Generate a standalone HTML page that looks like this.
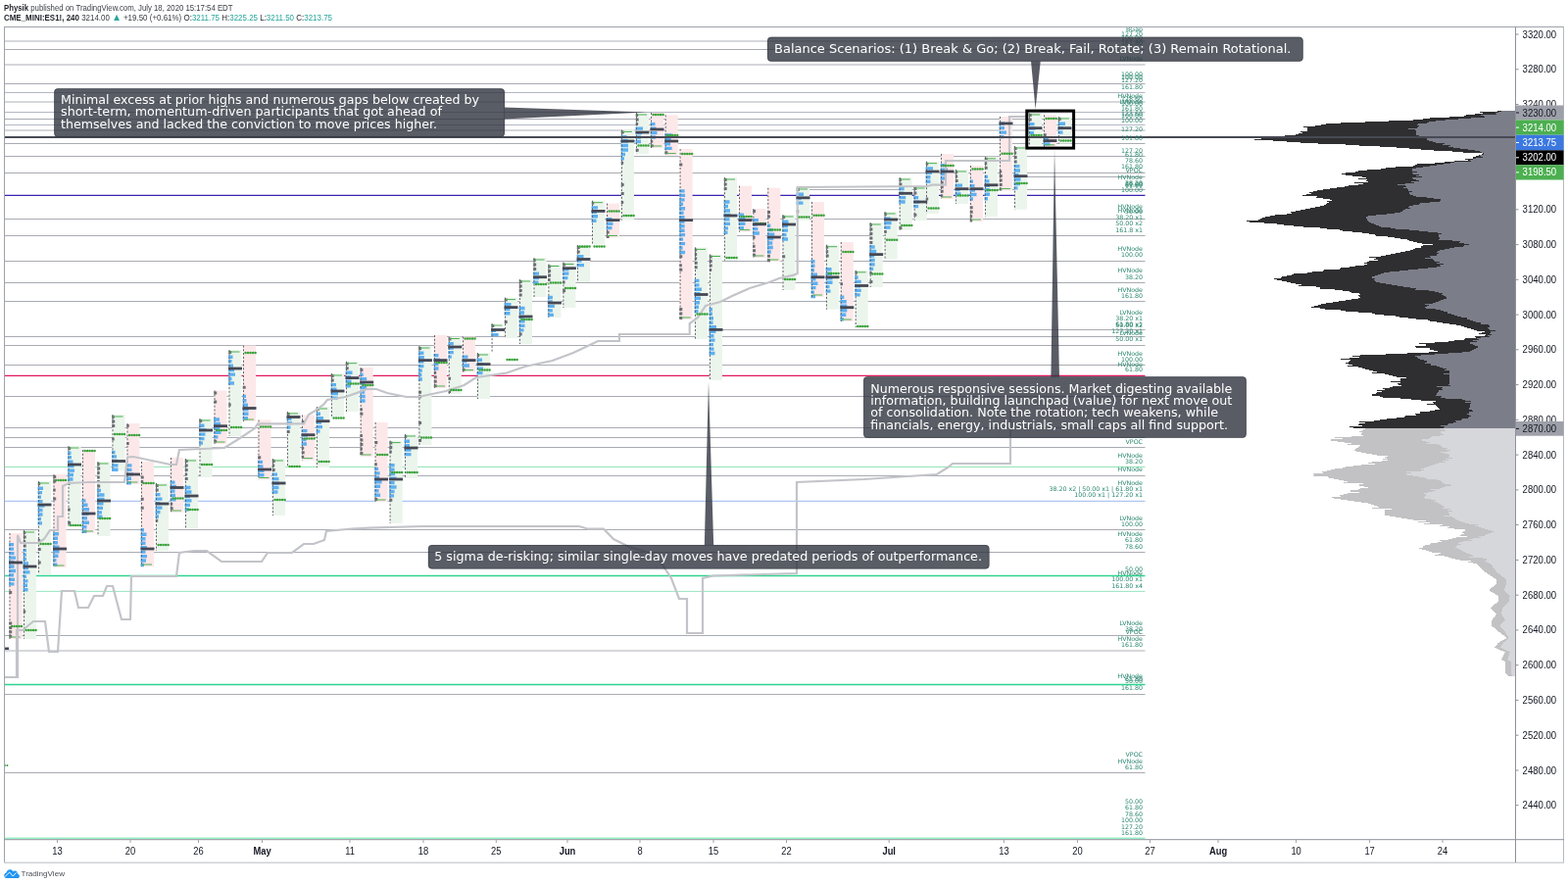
<!DOCTYPE html>
<html><head><meta charset="utf-8"><title>ES1! TPO chart</title>
<style>html,body{margin:0;padding:0;background:#fff;overflow:hidden}svg{display:block}</style></head>
<body><svg width="1600" height="903" viewBox="0 0 1600 903" shape-rendering="auto">
<rect width="1600" height="903" fill="#ffffff"/>
<line x1="5" x2="1168.5" y1="42" y2="42" stroke="#d6d7db" stroke-width="2"/>
<line x1="5" x2="1168.5" y1="50.5" y2="50.5" stroke="#a9abb2" stroke-width="1"/>
<line x1="5" x2="1168.5" y1="66" y2="66" stroke="#d6d7db" stroke-width="2"/>
<line x1="5" x2="1168.5" y1="85.5" y2="85.5" stroke="#a9abb2" stroke-width="1"/>
<line x1="5" x2="1168.5" y1="94.5" y2="94.5" stroke="#b4b8c6" stroke-width="1"/>
<line x1="5" x2="1168.5" y1="104" y2="104" stroke="#d6d7db" stroke-width="2"/>
<line x1="5" x2="1168.5" y1="114.5" y2="114.5" stroke="#b4b8c6" stroke-width="1"/>
<line x1="5" x2="1168.5" y1="121.5" y2="121.5" stroke="#a9abb2" stroke-width="1"/>
<line x1="5" x2="1168.5" y1="127.5" y2="127.5" stroke="#b4b8c6" stroke-width="1"/>
<line x1="5" x2="1168.5" y1="133" y2="133" stroke="#d6d7db" stroke-width="2"/>
<line x1="5" x2="1168.5" y1="146.5" y2="146.5" stroke="#a9abb2" stroke-width="1"/>
<line x1="5" x2="1168.5" y1="159.5" y2="159.5" stroke="#a9abb2" stroke-width="1"/>
<line x1="5" x2="1168.5" y1="176.5" y2="176.5" stroke="#a9abb2" stroke-width="1"/>
<line x1="5" x2="1168.5" y1="223.5" y2="223.5" stroke="#a9abb2" stroke-width="1"/>
<line x1="5" x2="1168.5" y1="240.5" y2="240.5" stroke="#a9abb2" stroke-width="1"/>
<line x1="5" x2="1168.5" y1="266.5" y2="266.5" stroke="#a9abb2" stroke-width="1"/>
<line x1="5" x2="1168.5" y1="288.5" y2="288.5" stroke="#a9abb2" stroke-width="1"/>
<line x1="5" x2="1168.5" y1="307.5" y2="307.5" stroke="#a9abb2" stroke-width="1"/>
<line x1="5" x2="1168.5" y1="343.5" y2="343.5" stroke="#a9abb2" stroke-width="1"/>
<line x1="5" x2="1168.5" y1="352.5" y2="352.5" stroke="#a9abb2" stroke-width="1"/>
<line x1="5" x2="1168.5" y1="372.5" y2="372.5" stroke="#a9abb2" stroke-width="1"/>
<line x1="5" x2="1168.5" y1="404.5" y2="404.5" stroke="#a9abb2" stroke-width="1"/>
<line x1="5" x2="1168.5" y1="436.5" y2="436.5" stroke="#a9abb2" stroke-width="1"/>
<line x1="5" x2="1168.5" y1="446.5" y2="446.5" stroke="#a9abb2" stroke-width="1"/>
<line x1="5" x2="1168.5" y1="456.5" y2="456.5" stroke="#a9abb2" stroke-width="1"/>
<line x1="5" x2="1168.5" y1="485.5" y2="485.5" stroke="#a9abb2" stroke-width="1"/>
<line x1="5" x2="1168.5" y1="540.5" y2="540.5" stroke="#a9abb2" stroke-width="1"/>
<line x1="5" x2="1168.5" y1="563.5" y2="563.5" stroke="#a9abb2" stroke-width="1"/>
<line x1="5" x2="1168.5" y1="648.5" y2="648.5" stroke="#a9abb2" stroke-width="1"/>
<line x1="5" x2="1168.5" y1="664" y2="664" stroke="#d6d7db" stroke-width="2"/>
<line x1="5" x2="1168.5" y1="708.5" y2="708.5" stroke="#a9abb2" stroke-width="1"/>
<line x1="5" x2="1168.5" y1="788.5" y2="788.5" stroke="#a9abb2" stroke-width="1"/>
<line x1="1035" x2="1168.5" y1="180.5" y2="180.5" stroke="#a9abb2" stroke-width="1"/>
<line x1="813" x2="1168.5" y1="193.5" y2="193.5" stroke="#a9abb2" stroke-width="1"/>
<line x1="724" x2="1168.5" y1="336.5" y2="336.5" stroke="#a9abb2" stroke-width="1"/>
<line x1="5" x2="1168.5" y1="199.3" y2="199.3" stroke="#3a23b0" stroke-width="1.3"/>
<line x1="5" x2="1168.5" y1="383.4" y2="383.4" stroke="#e0185f" stroke-width="1.4"/>
<line x1="5" x2="1168.5" y1="476.4" y2="476.4" stroke="#8fe3b5" stroke-width="1"/>
<line x1="5" x2="1168.5" y1="511.3" y2="511.3" stroke="#9ab8f2" stroke-width="1"/>
<line x1="5" x2="1168.5" y1="587.5" y2="587.5" stroke="#2fd38f" stroke-width="1.4"/>
<line x1="5" x2="1168.5" y1="603.4" y2="603.4" stroke="#98e6c0" stroke-width="1"/>
<line x1="5" x2="1168.5" y1="698.5" y2="698.5" stroke="#2fd38f" stroke-width="1.4"/>
<line x1="5" x2="1168.5" y1="855.3" y2="855.3" stroke="#95efc4" stroke-width="1.4"/>
<g><rect x="9.5" y="544.0" width="13" height="108.0" fill="#fde8e9"/><rect x="24.0" y="541.0" width="13" height="111.0" fill="#ebf5ec"/><rect x="39.0" y="491.0" width="13" height="95.0" fill="#ebf5ec"/><rect x="54.5" y="484.0" width="13" height="95.0" fill="#fde8e9"/><rect x="69.5" y="455.0" width="13" height="82.0" fill="#ebf5ec"/><rect x="84.0" y="459.0" width="13" height="85.0" fill="#fde8e9"/><rect x="99.5" y="471.0" width="13" height="76.0" fill="#ebf5ec"/><rect x="114.5" y="423.0" width="13" height="57.0" fill="#ebf5ec"/><rect x="129.5" y="432.0" width="13" height="62.0" fill="#fde8e9"/><rect x="144.0" y="471.0" width="13" height="107.0" fill="#fde8e9"/><rect x="159.0" y="493.0" width="13" height="69.0" fill="#ebf5ec"/><rect x="174.0" y="467.0" width="13" height="56.0" fill="#fde8e9"/><rect x="189.0" y="468.0" width="13" height="71.0" fill="#ebf5ec"/><rect x="203.5" y="427.0" width="13" height="60.0" fill="#ebf5ec"/><rect x="218.5" y="398.5" width="13" height="54.5" fill="#fde8e9"/><rect x="233.5" y="357.0" width="13" height="88.0" fill="#ebf5ec"/><rect x="248.0" y="352.5" width="13" height="77.5" fill="#fde8e9"/><rect x="263.5" y="428.5" width="13" height="61.0" fill="#fde8e9"/><rect x="278.0" y="468.0" width="13" height="58.0" fill="#ebf5ec"/><rect x="293.0" y="420.0" width="13" height="56.0" fill="#ebf5ec"/><rect x="308.0" y="423.5" width="13" height="46.1" fill="#fde8e9"/><rect x="323.0" y="415.0" width="13" height="62.0" fill="#ebf5ec"/><rect x="338.0" y="381.0" width="13" height="44.0" fill="#ebf5ec"/><rect x="353.0" y="368.7" width="13" height="51.3" fill="#ebf5ec"/><rect x="367.7" y="375.0" width="13" height="91.0" fill="#fde8e9"/><rect x="382.6" y="431.0" width="13" height="81.0" fill="#fde8e9"/><rect x="397.6" y="449.6" width="13" height="84.4" fill="#ebf5ec"/><rect x="413.0" y="443.0" width="13" height="45.0" fill="#ebf5ec"/><rect x="427.4" y="353.0" width="13" height="101.0" fill="#ebf5ec"/><rect x="443.0" y="342.0" width="13" height="54.0" fill="#fde8e9"/><rect x="457.8" y="343.5" width="13" height="58.5" fill="#ebf5ec"/><rect x="472.0" y="343.5" width="13" height="36.1" fill="#fde8e9"/><rect x="487.0" y="360.0" width="13" height="47.0" fill="#ebf5ec"/><rect x="515.0" y="303.6" width="13" height="41.4" fill="#ebf5ec"/><rect x="530.0" y="285.0" width="13" height="66.0" fill="#ebf5ec"/><rect x="544.5" y="263.0" width="13" height="40.0" fill="#ebf5ec"/><rect x="559.4" y="269.5" width="13" height="54.5" fill="#ebf5ec"/><rect x="574.4" y="267.5" width="13" height="46.5" fill="#ebf5ec"/><rect x="589.0" y="250.0" width="13" height="38.0" fill="#ebf5ec"/><rect x="604.0" y="204.7" width="13" height="44.8" fill="#ebf5ec"/><rect x="619.0" y="207.6" width="13" height="34.9" fill="#fde8e9"/><rect x="634.0" y="132.4" width="13" height="92.2" fill="#ebf5ec"/><rect x="649.0" y="115.0" width="13" height="42.0" fill="#ebf5ec"/><rect x="664.0" y="115.0" width="13" height="36.0" fill="#fde8e9"/><rect x="678.7" y="117.4" width="13" height="41.2" fill="#fde8e9"/><rect x="693.6" y="152.0" width="13" height="174.0" fill="#fde8e9"/><rect x="709.0" y="252.4" width="13" height="93.6" fill="#ebf5ec"/><rect x="724.0" y="259.5" width="13" height="128.5" fill="#ebf5ec"/><rect x="739.0" y="181.0" width="13" height="84.7" fill="#ebf5ec"/><rect x="754.0" y="189.7" width="13" height="46.9" fill="#fde8e9"/><rect x="768.4" y="213.0" width="13" height="50.0" fill="#fde8e9"/><rect x="783.3" y="191.7" width="13" height="75.3" fill="#fde8e9"/><rect x="798.5" y="219.0" width="13" height="77.0" fill="#ebf5ec"/><rect x="813.0" y="191.0" width="13" height="34.0" fill="#ebf5ec"/><rect x="828.0" y="206.0" width="13" height="97.0" fill="#fde8e9"/><rect x="843.0" y="249.7" width="13" height="66.0" fill="#ebf5ec"/><rect x="857.8" y="247.0" width="13" height="81.0" fill="#fde8e9"/><rect x="872.7" y="275.8" width="13" height="58.2" fill="#ebf5ec"/><rect x="887.7" y="227.0" width="13" height="66.0" fill="#ebf5ec"/><rect x="902.6" y="216.0" width="13" height="48.6" fill="#ebf5ec"/><rect x="917.7" y="181.0" width="13" height="53.7" fill="#ebf5ec"/><rect x="932.7" y="190.0" width="13" height="35.0" fill="#ebf5ec"/><rect x="945.0" y="164.7" width="13" height="53.3" fill="#ebf5ec"/><rect x="960.0" y="157.0" width="13" height="46.0" fill="#fde8e9"/><rect x="975.0" y="173.0" width="13" height="35.0" fill="#ebf5ec"/><rect x="990.0" y="169.0" width="13" height="57.0" fill="#fde8e9"/><rect x="1005.0" y="159.8" width="13" height="61.2" fill="#ebf5ec"/><rect x="1020.0" y="119.0" width="13" height="75.6" fill="#fde8e9"/><rect x="1035.0" y="149.0" width="13" height="64.8" fill="#ebf5ec"/><rect x="1050.0" y="115.0" width="13" height="33.0" fill="#ebf5ec"/><rect x="1065.0" y="117.4" width="13" height="32.4" fill="#fde8e9"/><rect x="1080.0" y="119.0" width="13" height="27.5" fill="#ebf5ec"/></g>
<path d="M9.0 553.9h5.0v3.4h-5.0zM9.0 558.4h5.0v3.4h-5.0zM9.0 562.9h5.5v3.4h-5.5zM9.0 567.4h7.0v3.4h-7.0zM9.0 571.8h5.5v3.4h-5.5zM9.0 576.3h5.5v3.4h-5.5zM9.0 580.8h7.0v3.4h-7.0zM9.0 585.2h5.0v3.4h-5.0zM9.0 589.7h6.0v3.4h-6.0zM9.0 594.2h5.5v3.4h-5.5zM23.5 559.9h3.5v3.4h-3.5zM23.5 564.4h3.5v3.4h-3.5zM23.5 568.8h3.5v3.4h-3.5zM23.5 573.3h5.5v3.4h-5.5zM23.5 577.8h5.5v3.4h-5.5zM23.5 582.2h7.0v3.4h-7.0zM23.5 586.7h3.5v3.4h-3.5zM23.5 591.2h5.0v3.4h-5.0zM23.5 595.6h4.5v3.4h-4.5zM23.5 600.1h5.0v3.4h-5.0zM38.5 496.5h5.5v3.4h-5.5zM38.5 500.9h4.5v3.4h-4.5zM38.5 505.4h3.5v3.4h-3.5zM38.5 509.9h5.0v3.4h-5.0zM38.5 514.4h7.0v3.4h-7.0zM38.5 518.8h5.0v3.4h-5.0zM38.5 523.3h5.0v3.4h-5.0zM38.5 527.8h3.5v3.4h-3.5zM38.5 532.2h4.5v3.4h-4.5zM54.0 543.1h6.0v3.4h-6.0zM54.0 547.6h5.0v3.4h-5.0zM54.0 552.1h5.0v3.4h-5.0zM54.0 556.5h6.5v3.4h-6.5zM54.0 561.0h6.5v3.4h-6.5zM54.0 565.5h5.5v3.4h-5.5zM54.0 569.9h3.5v3.4h-3.5zM54.0 574.4h4.5v3.4h-4.5zM69.0 460.5h3.5v3.4h-3.5zM69.0 464.9h4.0v3.4h-4.0zM69.0 469.4h5.5v3.4h-5.5zM69.0 473.9h6.5v3.4h-6.5zM69.0 478.4h7.0v3.4h-7.0zM69.0 482.8h6.0v3.4h-6.0zM69.0 487.3h5.5v3.4h-5.5zM83.5 509.2h4.0v3.4h-4.0zM83.5 513.6h6.0v3.4h-6.0zM83.5 518.1h7.5v3.4h-7.5zM83.5 522.6h7.0v3.4h-7.0zM83.5 527.1h5.5v3.4h-5.5zM83.5 531.5h7.5v3.4h-7.5zM83.5 536.0h5.0v3.4h-5.0zM83.5 540.5h5.0v3.4h-5.0zM99.0 498.8h4.0v3.4h-4.0zM99.0 503.3h7.5v3.4h-7.5zM99.0 507.8h7.5v3.4h-7.5zM99.0 512.2h6.5v3.4h-6.5zM99.0 516.7h6.0v3.4h-6.0zM99.0 521.2h5.0v3.4h-5.0zM99.0 525.6h5.5v3.4h-5.5zM114.0 459.8h3.5v3.4h-3.5zM114.0 464.2h5.0v3.4h-5.0zM114.0 468.7h6.0v3.4h-6.0zM114.0 473.2h6.5v3.4h-6.5zM114.0 477.6h6.5v3.4h-6.5zM129.0 473.2h5.5v3.4h-5.5zM129.0 477.7h5.5v3.4h-5.5zM129.0 482.2h7.0v3.4h-7.0zM129.0 486.6h5.0v3.4h-5.0zM129.0 491.1h5.0v3.4h-5.0zM143.5 539.1h3.5v3.4h-3.5zM143.5 543.5h6.0v3.4h-6.0zM143.5 548.0h5.0v3.4h-5.0zM143.5 552.5h5.0v3.4h-5.0zM143.5 556.9h6.5v3.4h-6.5zM143.5 561.4h5.0v3.4h-5.0zM143.5 565.9h6.5v3.4h-6.5zM143.5 570.3h5.5v3.4h-5.5zM143.5 574.8h3.5v3.4h-3.5zM158.5 502.9h5.0v3.4h-5.0zM158.5 507.4h7.0v3.4h-7.0zM158.5 511.9h5.0v3.4h-5.0zM158.5 516.4h7.0v3.4h-7.0zM158.5 520.8h5.0v3.4h-5.0zM158.5 525.3h3.5v3.4h-3.5zM173.5 490.4h5.0v3.4h-5.0zM173.5 494.8h6.5v3.4h-6.5zM173.5 499.3h5.0v3.4h-5.0zM173.5 503.8h5.5v3.4h-5.5zM173.5 508.2h6.0v3.4h-6.0zM188.5 495.8h6.0v3.4h-6.0zM188.5 500.3h7.0v3.4h-7.0zM188.5 504.8h5.5v3.4h-5.5zM188.5 509.2h7.0v3.4h-7.0zM188.5 513.7h5.5v3.4h-5.5zM188.5 518.2h4.5v3.4h-4.5zM203.0 432.5h5.5v3.4h-5.5zM203.0 436.9h7.5v3.4h-7.5zM203.0 441.4h6.5v3.4h-6.5zM203.0 445.9h5.5v3.4h-5.5zM203.0 450.4h4.0v3.4h-4.0zM218.0 426.3h6.0v3.4h-6.0zM218.0 430.8h7.0v3.4h-7.0zM218.0 435.3h6.5v3.4h-6.5zM218.0 439.7h7.5v3.4h-7.5zM218.0 444.2h4.5v3.4h-4.5zM233.0 362.5h4.5v3.4h-4.5zM233.0 366.9h3.5v3.4h-3.5zM233.0 371.4h5.0v3.4h-5.0zM233.0 375.9h6.0v3.4h-6.0zM233.0 380.4h7.0v3.4h-7.0zM233.0 384.8h3.5v3.4h-3.5zM233.0 389.3h6.0v3.4h-6.0zM247.5 402.7h3.5v3.4h-3.5zM247.5 407.1h4.0v3.4h-4.0zM247.5 411.6h5.5v3.4h-5.5zM247.5 416.1h6.0v3.4h-6.0zM247.5 420.6h6.0v3.4h-6.0zM247.5 425.0h5.5v3.4h-5.5zM263.0 469.7h5.0v3.4h-5.0zM263.0 474.2h5.5v3.4h-5.5zM263.0 478.7h6.5v3.4h-6.5zM263.0 483.1h6.5v3.4h-6.5zM277.5 482.4h5.5v3.4h-5.5zM277.5 486.9h7.0v3.4h-7.0zM277.5 491.4h7.5v3.4h-7.5zM277.5 495.8h7.0v3.4h-7.0zM277.5 500.3h6.0v3.4h-6.0zM292.5 425.5h5.0v3.4h-5.0zM292.5 429.9h5.5v3.4h-5.5zM292.5 434.4h4.0v3.4h-4.0zM307.5 437.9h6.0v3.4h-6.0zM307.5 442.4h6.5v3.4h-6.5zM307.5 446.9h5.0v3.4h-5.0zM307.5 451.3h5.5v3.4h-5.5zM322.5 420.5h4.5v3.4h-4.5zM322.5 424.9h7.5v3.4h-7.5zM322.5 429.4h5.5v3.4h-5.5zM322.5 433.9h6.5v3.4h-6.5zM322.5 438.4h4.0v3.4h-4.0zM337.5 390.9h5.5v3.4h-5.5zM337.5 395.4h6.0v3.4h-6.0zM337.5 399.9h7.5v3.4h-7.5zM337.5 404.4h7.0v3.4h-7.0zM352.5 378.6h7.0v3.4h-7.0zM352.5 383.1h5.5v3.4h-5.5zM352.5 387.6h6.0v3.4h-6.0zM352.5 392.1h5.5v3.4h-5.5zM367.2 380.5h3.5v3.4h-3.5zM367.2 384.9h7.0v3.4h-7.0zM367.2 389.4h5.0v3.4h-5.0zM367.2 393.9h7.0v3.4h-7.0zM367.2 398.4h5.0v3.4h-5.0zM367.2 402.8h5.5v3.4h-5.5zM367.2 407.3h5.5v3.4h-5.5zM382.1 476.7h4.0v3.4h-4.0zM382.1 481.2h5.5v3.4h-5.5zM382.1 485.6h5.0v3.4h-5.0zM382.1 490.1h7.5v3.4h-7.5zM382.1 494.6h6.0v3.4h-6.0zM382.1 499.1h4.5v3.4h-4.5zM382.1 503.5h6.0v3.4h-6.0zM397.1 473.0h5.5v3.4h-5.5zM397.1 477.4h5.5v3.4h-5.5zM397.1 481.9h6.0v3.4h-6.0zM397.1 486.4h7.5v3.4h-7.5zM397.1 490.8h5.5v3.4h-5.5zM397.1 495.3h7.5v3.4h-7.5zM397.1 499.8h5.5v3.4h-5.5zM397.1 504.2h5.0v3.4h-5.0zM412.5 448.5h5.5v3.4h-5.5zM412.5 452.9h5.5v3.4h-5.5zM412.5 457.4h7.0v3.4h-7.0zM412.5 461.9h7.0v3.4h-7.0zM426.9 358.5h5.5v3.4h-5.5zM426.9 362.9h6.0v3.4h-6.0zM426.9 367.4h5.5v3.4h-5.5zM426.9 371.9h5.5v3.4h-5.5zM426.9 376.4h4.0v3.4h-4.0zM426.9 380.8h3.5v3.4h-3.5zM426.9 385.3h4.0v3.4h-4.0zM442.5 360.9h5.0v3.4h-5.0zM442.5 365.4h6.5v3.4h-6.5zM442.5 369.8h5.0v3.4h-5.0zM442.5 374.3h5.0v3.4h-5.0zM457.3 349.0h5.5v3.4h-5.5zM457.3 353.4h5.5v3.4h-5.5zM457.3 357.9h5.5v3.4h-5.5zM457.3 362.4h3.5v3.4h-3.5zM471.5 362.4h6.0v3.4h-6.0zM471.5 366.9h5.0v3.4h-5.0zM471.5 371.3h7.5v3.4h-7.5zM486.5 365.5h5.5v3.4h-5.5zM486.5 369.9h6.5v3.4h-6.5zM486.5 374.4h6.5v3.4h-6.5zM486.5 378.9h6.0v3.4h-6.0zM501.1 335.5h5.0v3.4h-5.0zM501.1 339.9h7.5v3.4h-7.5zM514.5 309.1h7.0v3.4h-7.0zM514.5 313.5h6.0v3.4h-6.0zM514.5 318.0h6.0v3.4h-6.0zM529.5 312.8h6.0v3.4h-6.0zM529.5 317.3h5.5v3.4h-5.5zM529.5 321.8h5.0v3.4h-5.0zM529.5 326.2h6.0v3.4h-6.0zM529.5 330.7h6.0v3.4h-6.0zM529.5 335.2h5.0v3.4h-5.0zM544.0 277.4h6.0v3.4h-6.0zM544.0 281.9h6.0v3.4h-6.0zM544.0 286.4h5.5v3.4h-5.5zM558.9 301.8h5.0v3.4h-5.0zM558.9 306.3h5.0v3.4h-5.0zM558.9 310.7h7.0v3.4h-7.0zM558.9 315.2h5.0v3.4h-5.0zM558.9 319.7h6.0v3.4h-6.0zM573.9 273.0h6.5v3.4h-6.5zM573.9 277.4h6.5v3.4h-6.5zM573.9 281.9h5.5v3.4h-5.5zM588.5 259.9h7.0v3.4h-7.0zM588.5 264.4h5.0v3.4h-5.0zM588.5 268.9h7.5v3.4h-7.5zM603.5 210.2h6.5v3.4h-6.5zM603.5 214.6h5.5v3.4h-5.5zM603.5 219.1h6.5v3.4h-6.5zM603.5 223.6h5.0v3.4h-5.0zM618.5 222.0h6.0v3.4h-6.0zM618.5 226.5h7.0v3.4h-7.0zM618.5 230.9h6.0v3.4h-6.0zM633.5 137.9h6.0v3.4h-6.0zM633.5 142.3h7.5v3.4h-7.5zM633.5 146.8h7.5v3.4h-7.5zM633.5 151.3h7.5v3.4h-7.5zM633.5 155.8h4.5v3.4h-4.5zM633.5 160.2h3.5v3.4h-3.5zM648.5 129.4h7.5v3.4h-7.5zM648.5 133.9h6.5v3.4h-6.5zM648.5 138.3h5.5v3.4h-5.5zM648.5 142.8h5.5v3.4h-5.5zM663.5 124.9h5.0v3.4h-5.0zM663.5 129.4h6.0v3.4h-6.0zM663.5 133.9h7.0v3.4h-7.0zM663.5 138.3h5.5v3.4h-5.5zM678.2 136.3h7.5v3.4h-7.5zM678.2 140.8h6.5v3.4h-6.5zM678.2 145.2h6.0v3.4h-6.0zM678.2 149.7h7.5v3.4h-7.5zM693.1 193.2h5.5v3.4h-5.5zM693.1 197.7h6.0v3.4h-6.0zM693.1 202.2h5.5v3.4h-5.5zM693.1 206.6h4.0v3.4h-4.0zM693.1 211.1h6.0v3.4h-6.0zM693.1 215.6h4.5v3.4h-4.5zM693.1 220.0h5.5v3.4h-5.5zM693.1 224.5h5.5v3.4h-5.5zM693.1 229.0h5.5v3.4h-5.5zM693.1 233.5h5.5v3.4h-5.5zM693.1 237.9h6.0v3.4h-6.0zM693.1 242.4h4.0v3.4h-4.0zM693.1 246.9h6.0v3.4h-6.0zM693.1 251.3h3.5v3.4h-3.5zM693.1 255.8h6.0v3.4h-6.0zM708.5 284.7h5.0v3.4h-5.0zM708.5 289.2h5.0v3.4h-5.0zM708.5 293.6h7.5v3.4h-7.5zM708.5 298.1h6.0v3.4h-6.0zM708.5 302.6h6.5v3.4h-6.5zM708.5 307.0h5.5v3.4h-5.5zM708.5 311.5h4.5v3.4h-4.5zM708.5 316.0h4.0v3.4h-4.0zM723.5 314.1h3.5v3.4h-3.5zM723.5 318.6h3.5v3.4h-3.5zM723.5 323.1h4.5v3.4h-4.5zM723.5 327.6h4.0v3.4h-4.0zM723.5 332.0h7.5v3.4h-7.5zM723.5 336.5h7.0v3.4h-7.0zM723.5 341.0h5.0v3.4h-5.0zM723.5 345.4h6.0v3.4h-6.0zM723.5 349.9h4.5v3.4h-4.5zM723.5 354.4h5.0v3.4h-5.0zM723.5 358.8h6.0v3.4h-6.0zM738.5 204.3h6.0v3.4h-6.0zM738.5 208.8h4.5v3.4h-4.5zM738.5 213.3h6.5v3.4h-6.5zM738.5 217.8h7.0v3.4h-7.0zM738.5 222.2h6.0v3.4h-6.0zM738.5 226.7h6.5v3.4h-6.5zM738.5 231.2h4.5v3.4h-4.5zM738.5 235.6h4.0v3.4h-4.0zM753.5 217.5h5.5v3.4h-5.5zM753.5 222.0h7.0v3.4h-7.0zM753.5 226.5h7.0v3.4h-7.0zM753.5 230.9h5.5v3.4h-5.5zM767.9 222.9h6.0v3.4h-6.0zM767.9 227.4h5.0v3.4h-5.0zM767.9 231.9h5.5v3.4h-5.5zM767.9 236.3h7.0v3.4h-7.0zM782.8 228.5h3.5v3.4h-3.5zM782.8 232.9h6.0v3.4h-6.0zM782.8 237.4h7.5v3.4h-7.5zM782.8 241.9h6.5v3.4h-6.5zM782.8 246.3h5.5v3.4h-5.5zM782.8 250.8h6.0v3.4h-6.0zM782.8 255.3h4.0v3.4h-4.0zM798.0 224.5h6.5v3.4h-6.5zM798.0 228.9h6.0v3.4h-6.0zM798.0 233.4h6.0v3.4h-6.0zM798.0 237.9h4.5v3.4h-4.5zM798.0 242.3h6.0v3.4h-6.0zM812.5 196.5h7.5v3.4h-7.5zM812.5 200.9h5.0v3.4h-5.0zM812.5 205.4h7.0v3.4h-7.0zM827.5 265.1h4.0v3.4h-4.0zM827.5 269.6h4.0v3.4h-4.0zM827.5 274.1h3.5v3.4h-3.5zM827.5 278.5h6.5v3.4h-6.5zM827.5 283.0h5.0v3.4h-5.0zM827.5 287.5h7.0v3.4h-7.0zM827.5 291.9h5.0v3.4h-5.0zM827.5 296.4h3.5v3.4h-3.5zM827.5 300.9h4.5v3.4h-4.5zM842.5 273.1h6.0v3.4h-6.0zM842.5 277.5h6.5v3.4h-6.5zM842.5 282.0h7.0v3.4h-7.0zM842.5 286.5h7.0v3.4h-7.0zM842.5 290.9h4.0v3.4h-4.0zM842.5 295.4h5.0v3.4h-5.0zM857.3 301.6h4.0v3.4h-4.0zM857.3 306.1h6.5v3.4h-6.5zM857.3 310.6h7.0v3.4h-7.0zM857.3 315.1h7.0v3.4h-7.0zM857.3 319.5h6.0v3.4h-6.0zM857.3 324.0h3.5v3.4h-3.5zM872.2 281.3h3.5v3.4h-3.5zM872.2 285.7h6.5v3.4h-6.5zM872.2 290.2h6.0v3.4h-6.0zM872.2 294.7h6.5v3.4h-6.5zM872.2 299.2h5.5v3.4h-5.5zM887.2 250.3h5.5v3.4h-5.5zM887.2 254.8h7.0v3.4h-7.0zM887.2 259.3h5.0v3.4h-5.0zM887.2 263.8h5.5v3.4h-5.5zM887.2 268.2h5.5v3.4h-5.5zM887.2 272.7h4.0v3.4h-4.0zM902.1 221.5h6.5v3.4h-6.5zM902.1 225.9h7.5v3.4h-7.5zM902.1 230.4h6.5v3.4h-6.5zM917.2 190.9h5.5v3.4h-5.5zM917.2 195.4h5.0v3.4h-5.0zM917.2 199.9h7.0v3.4h-7.0zM917.2 204.3h6.5v3.4h-6.5zM932.2 199.9h5.0v3.4h-5.0zM932.2 204.4h6.0v3.4h-6.0zM932.2 208.9h5.0v3.4h-5.0zM944.5 170.2h7.5v3.4h-7.5zM944.5 174.6h6.5v3.4h-6.5zM944.5 179.1h5.0v3.4h-5.0zM944.5 183.6h5.0v3.4h-5.0zM959.5 166.9h5.5v3.4h-5.5zM959.5 171.4h7.5v3.4h-7.5zM959.5 175.9h6.0v3.4h-6.0zM959.5 180.3h6.0v3.4h-6.0zM974.5 187.4h7.5v3.4h-7.5zM974.5 191.9h5.0v3.4h-5.0zM974.5 196.3h6.0v3.4h-6.0zM989.5 183.4h3.5v3.4h-3.5zM989.5 187.9h5.0v3.4h-5.0zM989.5 192.3h5.5v3.4h-5.5zM989.5 196.8h7.0v3.4h-7.0zM989.5 201.3h3.5v3.4h-3.5zM1004.5 178.7h3.5v3.4h-3.5zM1004.5 183.2h5.0v3.4h-5.0zM1004.5 187.6h5.5v3.4h-5.5zM1004.5 192.1h5.0v3.4h-5.0zM1004.5 196.6h5.5v3.4h-5.5zM1004.5 201.0h3.5v3.4h-3.5zM1019.5 124.5h5.5v3.4h-5.5zM1019.5 128.9h5.5v3.4h-5.5zM1019.5 133.4h7.5v3.4h-7.5zM1019.5 137.9h5.0v3.4h-5.0zM1034.5 167.9h6.0v3.4h-6.0zM1034.5 172.3h6.5v3.4h-6.5zM1034.5 176.8h5.0v3.4h-5.0zM1034.5 181.3h7.0v3.4h-7.0zM1034.5 185.8h6.5v3.4h-6.5zM1034.5 190.2h4.0v3.4h-4.0zM1049.5 124.9h6.0v3.4h-6.0zM1049.5 129.4h7.0v3.4h-7.0zM1049.5 133.9h5.5v3.4h-5.5zM1064.5 140.8h5.5v3.4h-5.5zM1064.5 145.2h7.0v3.4h-7.0zM1079.5 124.5h7.5v3.4h-7.5zM1079.5 128.9h5.5v3.4h-5.5zM1079.5 133.4h5.0v3.4h-5.0z" fill="#5eb0f0"/>
<path d="M9.2 603.1h3.0v3h-3.0zM9.2 634.4h3.0v3h-3.0zM9.2 638.9h3.0v3h-3.0zM9.2 643.3h3.0v3h-3.0zM9.2 647.8h3.0v3h-3.0zM23.7 542.0h2.5v3h-2.5zM23.7 546.5h3.0v3h-3.0zM23.7 550.9h2.5v3h-2.5zM23.7 555.4h3.0v3h-3.0zM23.7 622.5h2.5v3h-2.5zM38.7 492.0h2.5v3h-2.5zM38.7 550.1h2.5v3h-2.5zM38.7 559.1h3.0v3h-3.0zM38.7 572.5h3.0v3h-3.0zM54.2 485.0h3.0v3h-3.0zM54.2 489.5h3.0v3h-3.0zM54.2 498.4h2.5v3h-2.5zM54.2 507.4h3.0v3h-3.0zM69.2 456.0h3.0v3h-3.0zM69.2 491.8h2.5v3h-2.5zM69.2 518.6h2.5v3h-2.5zM69.2 532.0h3.0v3h-3.0zM99.2 472.0h2.5v3h-2.5zM99.2 476.5h3.0v3h-3.0zM99.2 480.9h2.5v3h-2.5zM99.2 485.4h2.5v3h-2.5zM99.2 489.9h2.5v3h-2.5zM99.2 494.4h3.0v3h-3.0zM114.2 424.0h2.5v3h-2.5zM114.2 428.5h3.0v3h-3.0zM114.2 432.9h3.0v3h-3.0zM114.2 446.4h2.5v3h-2.5zM129.2 433.0h2.5v3h-2.5zM129.2 450.9h2.5v3h-2.5zM143.7 485.4h3.0v3h-3.0zM143.7 489.9h2.5v3h-2.5zM143.7 507.8h3.0v3h-3.0zM143.7 516.7h3.0v3h-3.0zM158.7 494.0h3.0v3h-3.0zM158.7 498.5h3.0v3h-3.0zM158.7 529.8h2.5v3h-2.5zM173.7 512.7h2.5v3h-2.5zM173.7 517.2h3.0v3h-3.0zM188.7 469.0h3.0v3h-3.0zM188.7 473.5h3.0v3h-3.0zM188.7 477.9h3.0v3h-3.0zM188.7 482.4h2.5v3h-2.5zM188.7 486.9h3.0v3h-3.0zM203.2 428.0h3.0v3h-3.0zM218.2 399.5h3.0v3h-3.0zM218.2 408.4h3.0v3h-3.0zM218.2 448.7h3.0v3h-3.0zM233.2 358.0h3.0v3h-3.0zM233.2 411.6h2.5v3h-2.5zM247.7 393.7h3.0v3h-3.0zM263.2 465.3h3.0v3h-3.0zM277.7 469.0h3.0v3h-3.0zM277.7 473.5h2.5v3h-2.5zM277.7 477.9h3.0v3h-3.0zM292.7 421.0h3.0v3h-3.0zM292.7 438.9h3.0v3h-3.0zM307.7 429.0h3.0v3h-3.0zM307.7 455.8h2.5v3h-2.5zM307.7 460.3h3.0v3h-3.0zM307.7 464.7h2.5v3h-2.5zM322.7 416.0h3.0v3h-3.0zM337.7 382.0h3.0v3h-3.0zM337.7 386.5h3.0v3h-3.0zM352.7 369.7h3.0v3h-3.0zM352.7 374.2h3.0v3h-3.0zM367.4 376.0h3.0v3h-3.0zM367.4 416.2h2.5v3h-2.5zM367.4 420.7h3.0v3h-3.0zM367.4 443.1h2.5v3h-2.5zM367.4 447.5h3.0v3h-3.0zM367.4 452.0h3.0v3h-3.0zM367.4 456.5h2.5v3h-2.5zM367.4 460.9h3.0v3h-3.0zM382.3 449.9h3.0v3h-3.0zM382.3 472.2h2.5v3h-2.5zM382.3 508.0h3.0v3h-3.0zM397.3 450.6h3.0v3h-3.0zM397.3 455.1h3.0v3h-3.0zM397.3 459.5h2.5v3h-2.5zM397.3 508.7h3.0v3h-3.0zM412.7 444.0h2.5v3h-2.5zM427.1 354.0h3.0v3h-3.0zM427.1 398.7h3.0v3h-3.0zM427.1 403.2h3.0v3h-3.0zM427.1 430.0h3.0v3h-3.0zM427.1 447.9h3.0v3h-3.0zM442.7 378.8h2.5v3h-2.5zM442.7 383.2h3.0v3h-3.0zM442.7 387.7h3.0v3h-3.0zM442.7 392.2h3.0v3h-3.0zM457.5 344.5h3.0v3h-3.0zM457.5 384.7h2.5v3h-2.5zM457.5 398.1h2.5v3h-2.5zM471.7 375.8h3.0v3h-3.0zM486.7 361.0h2.5v3h-2.5zM501.3 331.0h3.0v3h-3.0zM514.7 304.6h3.0v3h-3.0zM514.7 327.0h3.0v3h-3.0zM529.7 286.0h3.0v3h-3.0zM529.7 290.5h3.0v3h-3.0zM529.7 294.9h3.0v3h-3.0zM529.7 299.4h3.0v3h-3.0zM529.7 339.6h3.0v3h-3.0zM544.2 264.0h2.5v3h-2.5zM544.2 268.5h3.0v3h-3.0zM544.2 272.9h3.0v3h-3.0zM559.1 270.5h3.0v3h-3.0zM559.1 275.0h3.0v3h-3.0zM559.1 279.4h3.0v3h-3.0zM559.1 283.9h2.5v3h-2.5zM574.1 268.5h3.0v3h-3.0zM574.1 286.4h2.5v3h-2.5zM574.1 295.3h3.0v3h-3.0zM588.7 251.0h3.0v3h-3.0zM588.7 255.5h3.0v3h-3.0zM603.7 205.7h2.5v3h-2.5zM618.7 235.4h3.0v3h-3.0zM618.7 239.9h3.0v3h-3.0zM633.7 133.4h3.0v3h-3.0zM633.7 164.7h2.5v3h-2.5zM633.7 187.0h3.0v3h-3.0zM633.7 196.0h3.0v3h-3.0zM633.7 204.9h2.5v3h-2.5zM648.7 116.0h2.5v3h-2.5zM648.7 120.5h3.0v3h-3.0zM648.7 124.9h2.5v3h-2.5zM648.7 151.8h3.0v3h-3.0zM663.7 142.8h2.5v3h-2.5zM663.7 147.3h3.0v3h-3.0zM678.4 154.2h3.0v3h-3.0zM693.3 166.4h3.0v3h-3.0zM693.3 260.3h3.0v3h-3.0zM693.3 269.2h2.5v3h-2.5zM693.3 273.7h3.0v3h-3.0zM693.3 313.9h3.0v3h-3.0zM693.3 318.4h3.0v3h-3.0zM693.3 322.9h3.0v3h-3.0zM708.7 253.4h2.5v3h-2.5zM708.7 257.9h2.5v3h-2.5zM708.7 262.3h2.5v3h-2.5zM708.7 266.8h3.0v3h-3.0zM708.7 271.3h3.0v3h-3.0zM723.7 260.5h3.0v3h-3.0zM723.7 265.0h3.0v3h-3.0zM723.7 269.4h3.0v3h-3.0zM723.7 273.9h2.5v3h-2.5zM738.7 182.0h3.0v3h-3.0zM738.7 186.5h3.0v3h-3.0zM738.7 190.9h3.0v3h-3.0zM768.1 214.0h3.0v3h-3.0zM768.1 240.8h2.5v3h-2.5zM768.1 249.8h2.5v3h-2.5zM768.1 254.2h3.0v3h-3.0zM768.1 258.7h3.0v3h-3.0zM783.0 215.0h3.0v3h-3.0zM783.0 219.5h3.0v3h-3.0zM783.0 259.8h3.0v3h-3.0zM783.0 264.2h3.0v3h-3.0zM798.2 220.0h3.0v3h-3.0zM798.2 260.2h3.0v3h-3.0zM812.7 192.0h3.0v3h-3.0zM812.7 214.3h2.5v3h-2.5zM842.7 250.7h2.5v3h-2.5zM842.7 255.2h2.5v3h-2.5zM842.7 259.6h3.0v3h-3.0zM857.5 288.2h2.5v3h-2.5zM872.4 276.8h2.5v3h-2.5zM887.4 228.0h2.5v3h-2.5zM887.4 232.5h3.0v3h-3.0zM887.4 236.9h3.0v3h-3.0zM887.4 241.4h3.0v3h-3.0zM887.4 245.9h3.0v3h-3.0zM887.4 277.2h2.5v3h-2.5zM887.4 286.1h3.0v3h-3.0zM902.3 217.0h2.5v3h-2.5zM902.3 234.9h2.5v3h-2.5zM917.4 182.0h2.5v3h-2.5zM917.4 186.5h3.0v3h-3.0zM917.4 231.2h3.0v3h-3.0zM932.4 191.0h3.0v3h-3.0zM932.4 195.5h3.0v3h-3.0zM932.4 217.8h3.0v3h-3.0zM944.7 165.7h2.5v3h-2.5zM944.7 201.5h2.5v3h-2.5zM959.7 184.8h3.0v3h-3.0zM959.7 189.3h3.0v3h-3.0zM959.7 193.8h3.0v3h-3.0zM959.7 198.2h2.5v3h-2.5zM974.7 174.0h2.5v3h-2.5zM974.7 178.5h2.5v3h-2.5zM974.7 182.9h3.0v3h-3.0zM989.7 210.2h3.0v3h-3.0zM989.7 214.7h3.0v3h-3.0zM989.7 219.2h2.5v3h-2.5zM989.7 223.6h2.5v3h-2.5zM1004.7 160.8h3.0v3h-3.0zM1004.7 165.3h2.5v3h-2.5zM1004.7 169.7h3.0v3h-3.0zM1019.7 173.6h2.5v3h-2.5zM1019.7 178.1h3.0v3h-3.0zM1019.7 182.6h3.0v3h-3.0zM1019.7 187.0h3.0v3h-3.0zM1019.7 191.5h2.5v3h-2.5zM1034.7 150.0h3.0v3h-3.0zM1034.7 154.5h2.5v3h-2.5zM1034.7 158.9h3.0v3h-3.0zM1034.7 163.4h3.0v3h-3.0zM1049.7 116.0h3.0v3h-3.0zM1049.7 120.5h3.0v3h-3.0zM1064.7 136.3h3.0v3h-3.0zM1079.7 120.0h3.0v3h-3.0z" fill="#6e7076"/>
<path d="M10.0 544.0V652.0M24.5 541.0V652.0M39.5 491.0V586.0M55.0 484.0V579.0M70.0 455.0V537.0M84.5 459.0V544.0M100.0 471.0V547.0M115.0 423.0V480.0M130.0 432.0V494.0M144.5 471.0V578.0M159.5 493.0V562.0M174.5 467.0V523.0M189.5 468.0V539.0M204.0 427.0V487.0M219.0 398.5V453.0M234.0 357.0V445.0M248.5 352.5V430.0M264.0 428.5V489.5M278.5 468.0V526.0M293.5 420.0V476.0M308.5 423.5V469.6M323.5 415.0V477.0M338.5 381.0V425.0M353.5 368.7V420.0M368.2 375.0V466.0M383.1 431.0V512.0M398.1 449.6V534.0M413.5 443.0V488.0M427.9 353.0V454.0M443.5 342.0V396.0M458.3 343.5V402.0M472.5 343.5V379.6M487.5 360.0V407.0M502.1 330.0V360.0M515.5 303.6V345.0M530.5 285.0V351.0M545.0 263.0V303.0M559.9 269.5V324.0M574.9 267.5V314.0M589.5 250.0V288.0M604.5 204.7V249.5M619.5 207.6V242.5M634.5 132.4V224.6M649.5 115.0V157.0M664.5 115.0V151.0M679.2 117.4V158.6M694.1 152.0V326.0M709.5 252.4V346.0M724.5 259.5V388.0M739.5 181.0V265.7M754.5 189.7V236.6M768.9 213.0V263.0M783.8 191.7V267.0M799.0 219.0V296.0M813.5 191.0V225.0M828.5 206.0V303.0M843.5 249.7V315.7M858.3 247.0V328.0M873.2 275.8V334.0M888.2 227.0V293.0M903.1 216.0V264.6M918.2 181.0V234.7M933.2 190.0V225.0M945.5 164.7V218.0M960.5 157.0V203.0M975.5 173.0V208.0M990.5 169.0V226.0M1005.5 159.8V221.0M1020.5 119.0V194.6M1035.5 149.0V213.8M1050.5 115.0V148.0M1065.5 117.4V149.8M1080.5 119.0V146.5" stroke="#62646b" stroke-width="1" stroke-dasharray="2 1.8" fill="none"/>
<path d="M10.5 650.0h10M25.0 543.0h10M40.0 493.0h10M55.5 577.0h10M70.5 457.0h10M85.0 542.0h10M100.5 473.0h10M115.5 425.0h10M130.5 492.0h10M145.0 576.0h10M160.0 495.0h10M175.0 521.0h10M190.0 470.0h10M204.5 429.0h10M219.5 451.0h10M234.5 359.0h10M249.0 428.0h10M264.5 487.5h10M279.0 470.0h10M294.0 422.0h10M309.0 467.6h10M324.0 417.0h10M339.0 383.0h10M354.0 370.7h10M368.7 464.0h10M383.6 510.0h10M398.6 451.6h10M414.0 445.0h10M428.4 355.0h10M444.0 394.0h10M458.8 345.5h10M473.0 377.6h10M488.0 362.0h10M502.6 332.0h10M516.0 305.6h10M531.0 287.0h10M545.5 265.0h10M560.4 271.5h10M575.4 269.5h10M590.0 252.0h10M605.0 206.7h10M620.0 240.5h10M635.0 134.4h10M650.0 117.0h10M665.0 149.0h10M679.7 156.6h10M694.6 324.0h10M710.0 254.4h10M725.0 261.5h10M740.0 183.0h10M755.0 234.6h10M769.4 261.0h10M784.3 265.0h10M799.5 221.0h10M814.0 193.0h10M829.0 301.0h10M844.0 251.7h10M858.8 326.0h10M873.7 277.8h10M888.7 229.0h10M903.6 218.0h10M918.7 183.0h10M933.7 192.0h10M946.0 166.7h10M961.0 201.0h10M976.0 175.0h10M991.0 224.0h10M1006.0 161.8h10M1021.0 192.6h10M1036.0 151.0h10M1051.0 117.0h10M1066.0 147.8h10M1081.0 121.0h10" stroke="#4caf50" stroke-width="1" fill="none"/>
<polyline points="4,691 18,691 18,546 21,554 39,554 45,550 51,541 59,541 59,527 64,527 64,496 70,493 90,492 127,492 130,466.5 136,466 174,474 180,474 183,459 229,457 245,447 260,437 263,432.4 310,432.4 315,423 321.7,419 330,413 334,408 352.7,405 365,400.6 374,397 384,397 395,401 414.7,405 427,405 455,399 473.6,393 486,385 517,380.5 535.7,374 563.6,368 585,360 597.7,354 610,348 632,348 632,341 703.7,341 703.7,330 712,324 720,312 735,308 747,302 765,294 785,288 795,284 810,280.6 813.7,279 813.7,191 946,190 951,188.6 965,188.6 965,164 1030,164 1030,119 1046,119 1050,114.5 1090,114.5" fill="none" stroke="#c3c4c9" stroke-width="2.2" stroke-linejoin="miter"/>
<polyline points="4,691 17,691 17,643 23,643 34,634 46,634 50,665 59,665 63,603 76,603 80,620 90,620 96,608 105,608 109,598 115,598 124,632 133,632 134,588 180,588 183,564 198,562 211,562 226,573 267,573 273,564 298,564 310,555 320,555 331,551 333,542 359,539.5 377,538.6 430,537 591,537 600,539.7 616,539.7 626,550 642,558 669,566 685,590 693,611 701,611 701,646 717,646 717,590 728,587.5 813,585 813,492 882,489 956,484 967,477 972,473 1031,473 1031,420 1046,420" fill="none" stroke="#c3c4c9" stroke-width="2.2" stroke-linejoin="miter"/>
<path d="M12.1 639.0m-1.25 0a1.25 1.25 0 1 0 2.5 0a1.25 1.25 0 1 0 -2.5 0M14.6 639.0m-1.25 0a1.25 1.25 0 1 0 2.5 0a1.25 1.25 0 1 0 -2.5 0M17.1 639.0m-1.25 0a1.25 1.25 0 1 0 2.5 0a1.25 1.25 0 1 0 -2.5 0M19.6 639.0m-1.25 0a1.25 1.25 0 1 0 2.5 0a1.25 1.25 0 1 0 -2.5 0M22.1 639.0m-1.25 0a1.25 1.25 0 1 0 2.5 0a1.25 1.25 0 1 0 -2.5 0M26.6 643.0m-1.25 0a1.25 1.25 0 1 0 2.5 0a1.25 1.25 0 1 0 -2.5 0M29.1 643.0m-1.25 0a1.25 1.25 0 1 0 2.5 0a1.25 1.25 0 1 0 -2.5 0M31.6 643.0m-1.25 0a1.25 1.25 0 1 0 2.5 0a1.25 1.25 0 1 0 -2.5 0M34.1 643.0m-1.25 0a1.25 1.25 0 1 0 2.5 0a1.25 1.25 0 1 0 -2.5 0M36.6 643.0m-1.25 0a1.25 1.25 0 1 0 2.5 0a1.25 1.25 0 1 0 -2.5 0M41.6 555.0m-1.25 0a1.25 1.25 0 1 0 2.5 0a1.25 1.25 0 1 0 -2.5 0M44.1 555.0m-1.25 0a1.25 1.25 0 1 0 2.5 0a1.25 1.25 0 1 0 -2.5 0M46.6 555.0m-1.25 0a1.25 1.25 0 1 0 2.5 0a1.25 1.25 0 1 0 -2.5 0M49.1 555.0m-1.25 0a1.25 1.25 0 1 0 2.5 0a1.25 1.25 0 1 0 -2.5 0M51.6 555.0m-1.25 0a1.25 1.25 0 1 0 2.5 0a1.25 1.25 0 1 0 -2.5 0M57.1 490.0m-1.25 0a1.25 1.25 0 1 0 2.5 0a1.25 1.25 0 1 0 -2.5 0M59.6 490.0m-1.25 0a1.25 1.25 0 1 0 2.5 0a1.25 1.25 0 1 0 -2.5 0M62.1 490.0m-1.25 0a1.25 1.25 0 1 0 2.5 0a1.25 1.25 0 1 0 -2.5 0M64.6 490.0m-1.25 0a1.25 1.25 0 1 0 2.5 0a1.25 1.25 0 1 0 -2.5 0M67.1 490.0m-1.25 0a1.25 1.25 0 1 0 2.5 0a1.25 1.25 0 1 0 -2.5 0M72.1 536.0m-1.25 0a1.25 1.25 0 1 0 2.5 0a1.25 1.25 0 1 0 -2.5 0M74.6 536.0m-1.25 0a1.25 1.25 0 1 0 2.5 0a1.25 1.25 0 1 0 -2.5 0M77.1 536.0m-1.25 0a1.25 1.25 0 1 0 2.5 0a1.25 1.25 0 1 0 -2.5 0M79.6 536.0m-1.25 0a1.25 1.25 0 1 0 2.5 0a1.25 1.25 0 1 0 -2.5 0M82.1 536.0m-1.25 0a1.25 1.25 0 1 0 2.5 0a1.25 1.25 0 1 0 -2.5 0M86.6 460.0m-1.25 0a1.25 1.25 0 1 0 2.5 0a1.25 1.25 0 1 0 -2.5 0M89.1 460.0m-1.25 0a1.25 1.25 0 1 0 2.5 0a1.25 1.25 0 1 0 -2.5 0M91.6 460.0m-1.25 0a1.25 1.25 0 1 0 2.5 0a1.25 1.25 0 1 0 -2.5 0M94.1 460.0m-1.25 0a1.25 1.25 0 1 0 2.5 0a1.25 1.25 0 1 0 -2.5 0M96.6 460.0m-1.25 0a1.25 1.25 0 1 0 2.5 0a1.25 1.25 0 1 0 -2.5 0M102.1 529.0m-1.25 0a1.25 1.25 0 1 0 2.5 0a1.25 1.25 0 1 0 -2.5 0M104.6 529.0m-1.25 0a1.25 1.25 0 1 0 2.5 0a1.25 1.25 0 1 0 -2.5 0M107.1 529.0m-1.25 0a1.25 1.25 0 1 0 2.5 0a1.25 1.25 0 1 0 -2.5 0M109.6 529.0m-1.25 0a1.25 1.25 0 1 0 2.5 0a1.25 1.25 0 1 0 -2.5 0M112.1 529.0m-1.25 0a1.25 1.25 0 1 0 2.5 0a1.25 1.25 0 1 0 -2.5 0M117.1 443.0m-1.25 0a1.25 1.25 0 1 0 2.5 0a1.25 1.25 0 1 0 -2.5 0M119.6 443.0m-1.25 0a1.25 1.25 0 1 0 2.5 0a1.25 1.25 0 1 0 -2.5 0M122.1 443.0m-1.25 0a1.25 1.25 0 1 0 2.5 0a1.25 1.25 0 1 0 -2.5 0M124.6 443.0m-1.25 0a1.25 1.25 0 1 0 2.5 0a1.25 1.25 0 1 0 -2.5 0M127.1 443.0m-1.25 0a1.25 1.25 0 1 0 2.5 0a1.25 1.25 0 1 0 -2.5 0M132.1 444.0m-1.25 0a1.25 1.25 0 1 0 2.5 0a1.25 1.25 0 1 0 -2.5 0M134.6 444.0m-1.25 0a1.25 1.25 0 1 0 2.5 0a1.25 1.25 0 1 0 -2.5 0M137.1 444.0m-1.25 0a1.25 1.25 0 1 0 2.5 0a1.25 1.25 0 1 0 -2.5 0M139.6 444.0m-1.25 0a1.25 1.25 0 1 0 2.5 0a1.25 1.25 0 1 0 -2.5 0M142.1 444.0m-1.25 0a1.25 1.25 0 1 0 2.5 0a1.25 1.25 0 1 0 -2.5 0M146.6 493.0m-1.25 0a1.25 1.25 0 1 0 2.5 0a1.25 1.25 0 1 0 -2.5 0M149.1 493.0m-1.25 0a1.25 1.25 0 1 0 2.5 0a1.25 1.25 0 1 0 -2.5 0M151.6 493.0m-1.25 0a1.25 1.25 0 1 0 2.5 0a1.25 1.25 0 1 0 -2.5 0M154.1 493.0m-1.25 0a1.25 1.25 0 1 0 2.5 0a1.25 1.25 0 1 0 -2.5 0M156.6 493.0m-1.25 0a1.25 1.25 0 1 0 2.5 0a1.25 1.25 0 1 0 -2.5 0M161.6 556.0m-1.25 0a1.25 1.25 0 1 0 2.5 0a1.25 1.25 0 1 0 -2.5 0M164.1 556.0m-1.25 0a1.25 1.25 0 1 0 2.5 0a1.25 1.25 0 1 0 -2.5 0M166.6 556.0m-1.25 0a1.25 1.25 0 1 0 2.5 0a1.25 1.25 0 1 0 -2.5 0M169.1 556.0m-1.25 0a1.25 1.25 0 1 0 2.5 0a1.25 1.25 0 1 0 -2.5 0M171.6 556.0m-1.25 0a1.25 1.25 0 1 0 2.5 0a1.25 1.25 0 1 0 -2.5 0M176.6 508.5m-1.25 0a1.25 1.25 0 1 0 2.5 0a1.25 1.25 0 1 0 -2.5 0M179.1 508.5m-1.25 0a1.25 1.25 0 1 0 2.5 0a1.25 1.25 0 1 0 -2.5 0M181.6 508.5m-1.25 0a1.25 1.25 0 1 0 2.5 0a1.25 1.25 0 1 0 -2.5 0M184.1 508.5m-1.25 0a1.25 1.25 0 1 0 2.5 0a1.25 1.25 0 1 0 -2.5 0M186.6 508.5m-1.25 0a1.25 1.25 0 1 0 2.5 0a1.25 1.25 0 1 0 -2.5 0M191.6 520.0m-1.25 0a1.25 1.25 0 1 0 2.5 0a1.25 1.25 0 1 0 -2.5 0M194.1 520.0m-1.25 0a1.25 1.25 0 1 0 2.5 0a1.25 1.25 0 1 0 -2.5 0M196.6 520.0m-1.25 0a1.25 1.25 0 1 0 2.5 0a1.25 1.25 0 1 0 -2.5 0M199.1 520.0m-1.25 0a1.25 1.25 0 1 0 2.5 0a1.25 1.25 0 1 0 -2.5 0M201.6 520.0m-1.25 0a1.25 1.25 0 1 0 2.5 0a1.25 1.25 0 1 0 -2.5 0M206.1 474.0m-1.25 0a1.25 1.25 0 1 0 2.5 0a1.25 1.25 0 1 0 -2.5 0M208.6 474.0m-1.25 0a1.25 1.25 0 1 0 2.5 0a1.25 1.25 0 1 0 -2.5 0M211.1 474.0m-1.25 0a1.25 1.25 0 1 0 2.5 0a1.25 1.25 0 1 0 -2.5 0M213.6 474.0m-1.25 0a1.25 1.25 0 1 0 2.5 0a1.25 1.25 0 1 0 -2.5 0M216.1 474.0m-1.25 0a1.25 1.25 0 1 0 2.5 0a1.25 1.25 0 1 0 -2.5 0M221.1 439.0m-1.25 0a1.25 1.25 0 1 0 2.5 0a1.25 1.25 0 1 0 -2.5 0M223.6 439.0m-1.25 0a1.25 1.25 0 1 0 2.5 0a1.25 1.25 0 1 0 -2.5 0M226.1 439.0m-1.25 0a1.25 1.25 0 1 0 2.5 0a1.25 1.25 0 1 0 -2.5 0M228.6 439.0m-1.25 0a1.25 1.25 0 1 0 2.5 0a1.25 1.25 0 1 0 -2.5 0M231.1 439.0m-1.25 0a1.25 1.25 0 1 0 2.5 0a1.25 1.25 0 1 0 -2.5 0M236.1 436.0m-1.25 0a1.25 1.25 0 1 0 2.5 0a1.25 1.25 0 1 0 -2.5 0M238.6 436.0m-1.25 0a1.25 1.25 0 1 0 2.5 0a1.25 1.25 0 1 0 -2.5 0M241.1 436.0m-1.25 0a1.25 1.25 0 1 0 2.5 0a1.25 1.25 0 1 0 -2.5 0M243.6 436.0m-1.25 0a1.25 1.25 0 1 0 2.5 0a1.25 1.25 0 1 0 -2.5 0M246.1 436.0m-1.25 0a1.25 1.25 0 1 0 2.5 0a1.25 1.25 0 1 0 -2.5 0M250.6 360.0m-1.25 0a1.25 1.25 0 1 0 2.5 0a1.25 1.25 0 1 0 -2.5 0M253.1 360.0m-1.25 0a1.25 1.25 0 1 0 2.5 0a1.25 1.25 0 1 0 -2.5 0M255.6 360.0m-1.25 0a1.25 1.25 0 1 0 2.5 0a1.25 1.25 0 1 0 -2.5 0M258.1 360.0m-1.25 0a1.25 1.25 0 1 0 2.5 0a1.25 1.25 0 1 0 -2.5 0M260.6 360.0m-1.25 0a1.25 1.25 0 1 0 2.5 0a1.25 1.25 0 1 0 -2.5 0M266.1 435.5m-1.25 0a1.25 1.25 0 1 0 2.5 0a1.25 1.25 0 1 0 -2.5 0M268.6 435.5m-1.25 0a1.25 1.25 0 1 0 2.5 0a1.25 1.25 0 1 0 -2.5 0M271.1 435.5m-1.25 0a1.25 1.25 0 1 0 2.5 0a1.25 1.25 0 1 0 -2.5 0M273.6 435.5m-1.25 0a1.25 1.25 0 1 0 2.5 0a1.25 1.25 0 1 0 -2.5 0M276.1 435.5m-1.25 0a1.25 1.25 0 1 0 2.5 0a1.25 1.25 0 1 0 -2.5 0M280.6 510.0m-1.25 0a1.25 1.25 0 1 0 2.5 0a1.25 1.25 0 1 0 -2.5 0M283.1 510.0m-1.25 0a1.25 1.25 0 1 0 2.5 0a1.25 1.25 0 1 0 -2.5 0M285.6 510.0m-1.25 0a1.25 1.25 0 1 0 2.5 0a1.25 1.25 0 1 0 -2.5 0M288.1 510.0m-1.25 0a1.25 1.25 0 1 0 2.5 0a1.25 1.25 0 1 0 -2.5 0M290.6 510.0m-1.25 0a1.25 1.25 0 1 0 2.5 0a1.25 1.25 0 1 0 -2.5 0M295.6 476.0m-1.25 0a1.25 1.25 0 1 0 2.5 0a1.25 1.25 0 1 0 -2.5 0M298.1 476.0m-1.25 0a1.25 1.25 0 1 0 2.5 0a1.25 1.25 0 1 0 -2.5 0M300.6 476.0m-1.25 0a1.25 1.25 0 1 0 2.5 0a1.25 1.25 0 1 0 -2.5 0M303.1 476.0m-1.25 0a1.25 1.25 0 1 0 2.5 0a1.25 1.25 0 1 0 -2.5 0M305.6 476.0m-1.25 0a1.25 1.25 0 1 0 2.5 0a1.25 1.25 0 1 0 -2.5 0M310.6 447.6m-1.25 0a1.25 1.25 0 1 0 2.5 0a1.25 1.25 0 1 0 -2.5 0M313.1 447.6m-1.25 0a1.25 1.25 0 1 0 2.5 0a1.25 1.25 0 1 0 -2.5 0M315.6 447.6m-1.25 0a1.25 1.25 0 1 0 2.5 0a1.25 1.25 0 1 0 -2.5 0M318.1 447.6m-1.25 0a1.25 1.25 0 1 0 2.5 0a1.25 1.25 0 1 0 -2.5 0M320.6 447.6m-1.25 0a1.25 1.25 0 1 0 2.5 0a1.25 1.25 0 1 0 -2.5 0M325.6 471.0m-1.25 0a1.25 1.25 0 1 0 2.5 0a1.25 1.25 0 1 0 -2.5 0M328.1 471.0m-1.25 0a1.25 1.25 0 1 0 2.5 0a1.25 1.25 0 1 0 -2.5 0M330.6 471.0m-1.25 0a1.25 1.25 0 1 0 2.5 0a1.25 1.25 0 1 0 -2.5 0M333.1 471.0m-1.25 0a1.25 1.25 0 1 0 2.5 0a1.25 1.25 0 1 0 -2.5 0M335.6 471.0m-1.25 0a1.25 1.25 0 1 0 2.5 0a1.25 1.25 0 1 0 -2.5 0M340.6 426.5m-1.25 0a1.25 1.25 0 1 0 2.5 0a1.25 1.25 0 1 0 -2.5 0M343.1 426.5m-1.25 0a1.25 1.25 0 1 0 2.5 0a1.25 1.25 0 1 0 -2.5 0M345.6 426.5m-1.25 0a1.25 1.25 0 1 0 2.5 0a1.25 1.25 0 1 0 -2.5 0M348.1 426.5m-1.25 0a1.25 1.25 0 1 0 2.5 0a1.25 1.25 0 1 0 -2.5 0M350.6 426.5m-1.25 0a1.25 1.25 0 1 0 2.5 0a1.25 1.25 0 1 0 -2.5 0M355.6 391.6m-1.25 0a1.25 1.25 0 1 0 2.5 0a1.25 1.25 0 1 0 -2.5 0M358.1 391.6m-1.25 0a1.25 1.25 0 1 0 2.5 0a1.25 1.25 0 1 0 -2.5 0M360.6 391.6m-1.25 0a1.25 1.25 0 1 0 2.5 0a1.25 1.25 0 1 0 -2.5 0M363.1 391.6m-1.25 0a1.25 1.25 0 1 0 2.5 0a1.25 1.25 0 1 0 -2.5 0M365.6 391.6m-1.25 0a1.25 1.25 0 1 0 2.5 0a1.25 1.25 0 1 0 -2.5 0M370.3 393.0m-1.25 0a1.25 1.25 0 1 0 2.5 0a1.25 1.25 0 1 0 -2.5 0M372.8 393.0m-1.25 0a1.25 1.25 0 1 0 2.5 0a1.25 1.25 0 1 0 -2.5 0M375.3 393.0m-1.25 0a1.25 1.25 0 1 0 2.5 0a1.25 1.25 0 1 0 -2.5 0M377.8 393.0m-1.25 0a1.25 1.25 0 1 0 2.5 0a1.25 1.25 0 1 0 -2.5 0M380.3 393.0m-1.25 0a1.25 1.25 0 1 0 2.5 0a1.25 1.25 0 1 0 -2.5 0M385.2 464.0m-1.25 0a1.25 1.25 0 1 0 2.5 0a1.25 1.25 0 1 0 -2.5 0M387.7 464.0m-1.25 0a1.25 1.25 0 1 0 2.5 0a1.25 1.25 0 1 0 -2.5 0M390.2 464.0m-1.25 0a1.25 1.25 0 1 0 2.5 0a1.25 1.25 0 1 0 -2.5 0M392.7 464.0m-1.25 0a1.25 1.25 0 1 0 2.5 0a1.25 1.25 0 1 0 -2.5 0M395.2 464.0m-1.25 0a1.25 1.25 0 1 0 2.5 0a1.25 1.25 0 1 0 -2.5 0M400.2 482.0m-1.25 0a1.25 1.25 0 1 0 2.5 0a1.25 1.25 0 1 0 -2.5 0M402.7 482.0m-1.25 0a1.25 1.25 0 1 0 2.5 0a1.25 1.25 0 1 0 -2.5 0M405.2 482.0m-1.25 0a1.25 1.25 0 1 0 2.5 0a1.25 1.25 0 1 0 -2.5 0M407.7 482.0m-1.25 0a1.25 1.25 0 1 0 2.5 0a1.25 1.25 0 1 0 -2.5 0M410.2 482.0m-1.25 0a1.25 1.25 0 1 0 2.5 0a1.25 1.25 0 1 0 -2.5 0M415.6 482.0m-1.25 0a1.25 1.25 0 1 0 2.5 0a1.25 1.25 0 1 0 -2.5 0M418.1 482.0m-1.25 0a1.25 1.25 0 1 0 2.5 0a1.25 1.25 0 1 0 -2.5 0M420.6 482.0m-1.25 0a1.25 1.25 0 1 0 2.5 0a1.25 1.25 0 1 0 -2.5 0M423.1 482.0m-1.25 0a1.25 1.25 0 1 0 2.5 0a1.25 1.25 0 1 0 -2.5 0M425.6 482.0m-1.25 0a1.25 1.25 0 1 0 2.5 0a1.25 1.25 0 1 0 -2.5 0M430.0 446.4m-1.25 0a1.25 1.25 0 1 0 2.5 0a1.25 1.25 0 1 0 -2.5 0M432.5 446.4m-1.25 0a1.25 1.25 0 1 0 2.5 0a1.25 1.25 0 1 0 -2.5 0M435.0 446.4m-1.25 0a1.25 1.25 0 1 0 2.5 0a1.25 1.25 0 1 0 -2.5 0M437.5 446.4m-1.25 0a1.25 1.25 0 1 0 2.5 0a1.25 1.25 0 1 0 -2.5 0M440.0 446.4m-1.25 0a1.25 1.25 0 1 0 2.5 0a1.25 1.25 0 1 0 -2.5 0M445.6 370.0m-1.25 0a1.25 1.25 0 1 0 2.5 0a1.25 1.25 0 1 0 -2.5 0M448.1 370.0m-1.25 0a1.25 1.25 0 1 0 2.5 0a1.25 1.25 0 1 0 -2.5 0M450.6 370.0m-1.25 0a1.25 1.25 0 1 0 2.5 0a1.25 1.25 0 1 0 -2.5 0M453.1 370.0m-1.25 0a1.25 1.25 0 1 0 2.5 0a1.25 1.25 0 1 0 -2.5 0M455.6 370.0m-1.25 0a1.25 1.25 0 1 0 2.5 0a1.25 1.25 0 1 0 -2.5 0M460.4 398.0m-1.25 0a1.25 1.25 0 1 0 2.5 0a1.25 1.25 0 1 0 -2.5 0M462.9 398.0m-1.25 0a1.25 1.25 0 1 0 2.5 0a1.25 1.25 0 1 0 -2.5 0M465.4 398.0m-1.25 0a1.25 1.25 0 1 0 2.5 0a1.25 1.25 0 1 0 -2.5 0M467.9 398.0m-1.25 0a1.25 1.25 0 1 0 2.5 0a1.25 1.25 0 1 0 -2.5 0M470.4 398.0m-1.25 0a1.25 1.25 0 1 0 2.5 0a1.25 1.25 0 1 0 -2.5 0M474.6 345.5m-1.25 0a1.25 1.25 0 1 0 2.5 0a1.25 1.25 0 1 0 -2.5 0M477.1 345.5m-1.25 0a1.25 1.25 0 1 0 2.5 0a1.25 1.25 0 1 0 -2.5 0M479.6 345.5m-1.25 0a1.25 1.25 0 1 0 2.5 0a1.25 1.25 0 1 0 -2.5 0M482.1 345.5m-1.25 0a1.25 1.25 0 1 0 2.5 0a1.25 1.25 0 1 0 -2.5 0M484.6 345.5m-1.25 0a1.25 1.25 0 1 0 2.5 0a1.25 1.25 0 1 0 -2.5 0M489.6 377.6m-1.25 0a1.25 1.25 0 1 0 2.5 0a1.25 1.25 0 1 0 -2.5 0M492.1 377.6m-1.25 0a1.25 1.25 0 1 0 2.5 0a1.25 1.25 0 1 0 -2.5 0M494.6 377.6m-1.25 0a1.25 1.25 0 1 0 2.5 0a1.25 1.25 0 1 0 -2.5 0M497.1 377.6m-1.25 0a1.25 1.25 0 1 0 2.5 0a1.25 1.25 0 1 0 -2.5 0M499.6 377.6m-1.25 0a1.25 1.25 0 1 0 2.5 0a1.25 1.25 0 1 0 -2.5 0M517.6 367.0m-1.25 0a1.25 1.25 0 1 0 2.5 0a1.25 1.25 0 1 0 -2.5 0M520.1 367.0m-1.25 0a1.25 1.25 0 1 0 2.5 0a1.25 1.25 0 1 0 -2.5 0M522.6 367.0m-1.25 0a1.25 1.25 0 1 0 2.5 0a1.25 1.25 0 1 0 -2.5 0M525.1 367.0m-1.25 0a1.25 1.25 0 1 0 2.5 0a1.25 1.25 0 1 0 -2.5 0M527.6 367.0m-1.25 0a1.25 1.25 0 1 0 2.5 0a1.25 1.25 0 1 0 -2.5 0M532.6 326.0m-1.25 0a1.25 1.25 0 1 0 2.5 0a1.25 1.25 0 1 0 -2.5 0M535.1 326.0m-1.25 0a1.25 1.25 0 1 0 2.5 0a1.25 1.25 0 1 0 -2.5 0M537.6 326.0m-1.25 0a1.25 1.25 0 1 0 2.5 0a1.25 1.25 0 1 0 -2.5 0M540.1 326.0m-1.25 0a1.25 1.25 0 1 0 2.5 0a1.25 1.25 0 1 0 -2.5 0M542.6 326.0m-1.25 0a1.25 1.25 0 1 0 2.5 0a1.25 1.25 0 1 0 -2.5 0M547.1 290.0m-1.25 0a1.25 1.25 0 1 0 2.5 0a1.25 1.25 0 1 0 -2.5 0M549.6 290.0m-1.25 0a1.25 1.25 0 1 0 2.5 0a1.25 1.25 0 1 0 -2.5 0M552.1 290.0m-1.25 0a1.25 1.25 0 1 0 2.5 0a1.25 1.25 0 1 0 -2.5 0M554.6 290.0m-1.25 0a1.25 1.25 0 1 0 2.5 0a1.25 1.25 0 1 0 -2.5 0M557.1 290.0m-1.25 0a1.25 1.25 0 1 0 2.5 0a1.25 1.25 0 1 0 -2.5 0M562.0 288.6m-1.25 0a1.25 1.25 0 1 0 2.5 0a1.25 1.25 0 1 0 -2.5 0M564.5 288.6m-1.25 0a1.25 1.25 0 1 0 2.5 0a1.25 1.25 0 1 0 -2.5 0M567.0 288.6m-1.25 0a1.25 1.25 0 1 0 2.5 0a1.25 1.25 0 1 0 -2.5 0M569.5 288.6m-1.25 0a1.25 1.25 0 1 0 2.5 0a1.25 1.25 0 1 0 -2.5 0M572.0 288.6m-1.25 0a1.25 1.25 0 1 0 2.5 0a1.25 1.25 0 1 0 -2.5 0M577.0 294.0m-1.25 0a1.25 1.25 0 1 0 2.5 0a1.25 1.25 0 1 0 -2.5 0M579.5 294.0m-1.25 0a1.25 1.25 0 1 0 2.5 0a1.25 1.25 0 1 0 -2.5 0M582.0 294.0m-1.25 0a1.25 1.25 0 1 0 2.5 0a1.25 1.25 0 1 0 -2.5 0M584.5 294.0m-1.25 0a1.25 1.25 0 1 0 2.5 0a1.25 1.25 0 1 0 -2.5 0M587.0 294.0m-1.25 0a1.25 1.25 0 1 0 2.5 0a1.25 1.25 0 1 0 -2.5 0M591.6 251.5m-1.25 0a1.25 1.25 0 1 0 2.5 0a1.25 1.25 0 1 0 -2.5 0M594.1 251.5m-1.25 0a1.25 1.25 0 1 0 2.5 0a1.25 1.25 0 1 0 -2.5 0M596.6 251.5m-1.25 0a1.25 1.25 0 1 0 2.5 0a1.25 1.25 0 1 0 -2.5 0M599.1 251.5m-1.25 0a1.25 1.25 0 1 0 2.5 0a1.25 1.25 0 1 0 -2.5 0M601.6 251.5m-1.25 0a1.25 1.25 0 1 0 2.5 0a1.25 1.25 0 1 0 -2.5 0M606.6 251.5m-1.25 0a1.25 1.25 0 1 0 2.5 0a1.25 1.25 0 1 0 -2.5 0M609.1 251.5m-1.25 0a1.25 1.25 0 1 0 2.5 0a1.25 1.25 0 1 0 -2.5 0M611.6 251.5m-1.25 0a1.25 1.25 0 1 0 2.5 0a1.25 1.25 0 1 0 -2.5 0M614.1 251.5m-1.25 0a1.25 1.25 0 1 0 2.5 0a1.25 1.25 0 1 0 -2.5 0M616.6 251.5m-1.25 0a1.25 1.25 0 1 0 2.5 0a1.25 1.25 0 1 0 -2.5 0M621.6 215.4m-1.25 0a1.25 1.25 0 1 0 2.5 0a1.25 1.25 0 1 0 -2.5 0M624.1 215.4m-1.25 0a1.25 1.25 0 1 0 2.5 0a1.25 1.25 0 1 0 -2.5 0M626.6 215.4m-1.25 0a1.25 1.25 0 1 0 2.5 0a1.25 1.25 0 1 0 -2.5 0M629.1 215.4m-1.25 0a1.25 1.25 0 1 0 2.5 0a1.25 1.25 0 1 0 -2.5 0M631.6 215.4m-1.25 0a1.25 1.25 0 1 0 2.5 0a1.25 1.25 0 1 0 -2.5 0M636.6 220.0m-1.25 0a1.25 1.25 0 1 0 2.5 0a1.25 1.25 0 1 0 -2.5 0M639.1 220.0m-1.25 0a1.25 1.25 0 1 0 2.5 0a1.25 1.25 0 1 0 -2.5 0M641.6 220.0m-1.25 0a1.25 1.25 0 1 0 2.5 0a1.25 1.25 0 1 0 -2.5 0M644.1 220.0m-1.25 0a1.25 1.25 0 1 0 2.5 0a1.25 1.25 0 1 0 -2.5 0M646.6 220.0m-1.25 0a1.25 1.25 0 1 0 2.5 0a1.25 1.25 0 1 0 -2.5 0M651.6 148.6m-1.25 0a1.25 1.25 0 1 0 2.5 0a1.25 1.25 0 1 0 -2.5 0M654.1 148.6m-1.25 0a1.25 1.25 0 1 0 2.5 0a1.25 1.25 0 1 0 -2.5 0M656.6 148.6m-1.25 0a1.25 1.25 0 1 0 2.5 0a1.25 1.25 0 1 0 -2.5 0M659.1 148.6m-1.25 0a1.25 1.25 0 1 0 2.5 0a1.25 1.25 0 1 0 -2.5 0M661.6 148.6m-1.25 0a1.25 1.25 0 1 0 2.5 0a1.25 1.25 0 1 0 -2.5 0M666.6 117.0m-1.25 0a1.25 1.25 0 1 0 2.5 0a1.25 1.25 0 1 0 -2.5 0M669.1 117.0m-1.25 0a1.25 1.25 0 1 0 2.5 0a1.25 1.25 0 1 0 -2.5 0M671.6 117.0m-1.25 0a1.25 1.25 0 1 0 2.5 0a1.25 1.25 0 1 0 -2.5 0M674.1 117.0m-1.25 0a1.25 1.25 0 1 0 2.5 0a1.25 1.25 0 1 0 -2.5 0M676.6 117.0m-1.25 0a1.25 1.25 0 1 0 2.5 0a1.25 1.25 0 1 0 -2.5 0M681.3 138.0m-1.25 0a1.25 1.25 0 1 0 2.5 0a1.25 1.25 0 1 0 -2.5 0M683.8 138.0m-1.25 0a1.25 1.25 0 1 0 2.5 0a1.25 1.25 0 1 0 -2.5 0M686.3 138.0m-1.25 0a1.25 1.25 0 1 0 2.5 0a1.25 1.25 0 1 0 -2.5 0M688.8 138.0m-1.25 0a1.25 1.25 0 1 0 2.5 0a1.25 1.25 0 1 0 -2.5 0M691.3 138.0m-1.25 0a1.25 1.25 0 1 0 2.5 0a1.25 1.25 0 1 0 -2.5 0M696.2 157.0m-1.25 0a1.25 1.25 0 1 0 2.5 0a1.25 1.25 0 1 0 -2.5 0M698.7 157.0m-1.25 0a1.25 1.25 0 1 0 2.5 0a1.25 1.25 0 1 0 -2.5 0M701.2 157.0m-1.25 0a1.25 1.25 0 1 0 2.5 0a1.25 1.25 0 1 0 -2.5 0M703.7 157.0m-1.25 0a1.25 1.25 0 1 0 2.5 0a1.25 1.25 0 1 0 -2.5 0M706.2 157.0m-1.25 0a1.25 1.25 0 1 0 2.5 0a1.25 1.25 0 1 0 -2.5 0M711.6 320.5m-1.25 0a1.25 1.25 0 1 0 2.5 0a1.25 1.25 0 1 0 -2.5 0M714.1 320.5m-1.25 0a1.25 1.25 0 1 0 2.5 0a1.25 1.25 0 1 0 -2.5 0M716.6 320.5m-1.25 0a1.25 1.25 0 1 0 2.5 0a1.25 1.25 0 1 0 -2.5 0M719.1 320.5m-1.25 0a1.25 1.25 0 1 0 2.5 0a1.25 1.25 0 1 0 -2.5 0M721.6 320.5m-1.25 0a1.25 1.25 0 1 0 2.5 0a1.25 1.25 0 1 0 -2.5 0M741.6 263.0m-1.25 0a1.25 1.25 0 1 0 2.5 0a1.25 1.25 0 1 0 -2.5 0M744.1 263.0m-1.25 0a1.25 1.25 0 1 0 2.5 0a1.25 1.25 0 1 0 -2.5 0M746.6 263.0m-1.25 0a1.25 1.25 0 1 0 2.5 0a1.25 1.25 0 1 0 -2.5 0M749.1 263.0m-1.25 0a1.25 1.25 0 1 0 2.5 0a1.25 1.25 0 1 0 -2.5 0M751.6 263.0m-1.25 0a1.25 1.25 0 1 0 2.5 0a1.25 1.25 0 1 0 -2.5 0M756.6 221.0m-1.25 0a1.25 1.25 0 1 0 2.5 0a1.25 1.25 0 1 0 -2.5 0M759.1 221.0m-1.25 0a1.25 1.25 0 1 0 2.5 0a1.25 1.25 0 1 0 -2.5 0M761.6 221.0m-1.25 0a1.25 1.25 0 1 0 2.5 0a1.25 1.25 0 1 0 -2.5 0M764.1 221.0m-1.25 0a1.25 1.25 0 1 0 2.5 0a1.25 1.25 0 1 0 -2.5 0M766.6 221.0m-1.25 0a1.25 1.25 0 1 0 2.5 0a1.25 1.25 0 1 0 -2.5 0M771.0 228.0m-1.25 0a1.25 1.25 0 1 0 2.5 0a1.25 1.25 0 1 0 -2.5 0M773.5 228.0m-1.25 0a1.25 1.25 0 1 0 2.5 0a1.25 1.25 0 1 0 -2.5 0M776.0 228.0m-1.25 0a1.25 1.25 0 1 0 2.5 0a1.25 1.25 0 1 0 -2.5 0M778.5 228.0m-1.25 0a1.25 1.25 0 1 0 2.5 0a1.25 1.25 0 1 0 -2.5 0M781.0 228.0m-1.25 0a1.25 1.25 0 1 0 2.5 0a1.25 1.25 0 1 0 -2.5 0M785.9 234.6m-1.25 0a1.25 1.25 0 1 0 2.5 0a1.25 1.25 0 1 0 -2.5 0M788.4 234.6m-1.25 0a1.25 1.25 0 1 0 2.5 0a1.25 1.25 0 1 0 -2.5 0M790.9 234.6m-1.25 0a1.25 1.25 0 1 0 2.5 0a1.25 1.25 0 1 0 -2.5 0M793.4 234.6m-1.25 0a1.25 1.25 0 1 0 2.5 0a1.25 1.25 0 1 0 -2.5 0M795.9 234.6m-1.25 0a1.25 1.25 0 1 0 2.5 0a1.25 1.25 0 1 0 -2.5 0M801.1 285.0m-1.25 0a1.25 1.25 0 1 0 2.5 0a1.25 1.25 0 1 0 -2.5 0M803.6 285.0m-1.25 0a1.25 1.25 0 1 0 2.5 0a1.25 1.25 0 1 0 -2.5 0M806.1 285.0m-1.25 0a1.25 1.25 0 1 0 2.5 0a1.25 1.25 0 1 0 -2.5 0M808.6 285.0m-1.25 0a1.25 1.25 0 1 0 2.5 0a1.25 1.25 0 1 0 -2.5 0M811.1 285.0m-1.25 0a1.25 1.25 0 1 0 2.5 0a1.25 1.25 0 1 0 -2.5 0M815.6 221.5m-1.25 0a1.25 1.25 0 1 0 2.5 0a1.25 1.25 0 1 0 -2.5 0M818.1 221.5m-1.25 0a1.25 1.25 0 1 0 2.5 0a1.25 1.25 0 1 0 -2.5 0M820.6 221.5m-1.25 0a1.25 1.25 0 1 0 2.5 0a1.25 1.25 0 1 0 -2.5 0M823.1 221.5m-1.25 0a1.25 1.25 0 1 0 2.5 0a1.25 1.25 0 1 0 -2.5 0M825.6 221.5m-1.25 0a1.25 1.25 0 1 0 2.5 0a1.25 1.25 0 1 0 -2.5 0M830.6 219.8m-1.25 0a1.25 1.25 0 1 0 2.5 0a1.25 1.25 0 1 0 -2.5 0M833.1 219.8m-1.25 0a1.25 1.25 0 1 0 2.5 0a1.25 1.25 0 1 0 -2.5 0M835.6 219.8m-1.25 0a1.25 1.25 0 1 0 2.5 0a1.25 1.25 0 1 0 -2.5 0M838.1 219.8m-1.25 0a1.25 1.25 0 1 0 2.5 0a1.25 1.25 0 1 0 -2.5 0M840.6 219.8m-1.25 0a1.25 1.25 0 1 0 2.5 0a1.25 1.25 0 1 0 -2.5 0M845.6 279.0m-1.25 0a1.25 1.25 0 1 0 2.5 0a1.25 1.25 0 1 0 -2.5 0M848.1 279.0m-1.25 0a1.25 1.25 0 1 0 2.5 0a1.25 1.25 0 1 0 -2.5 0M850.6 279.0m-1.25 0a1.25 1.25 0 1 0 2.5 0a1.25 1.25 0 1 0 -2.5 0M853.1 279.0m-1.25 0a1.25 1.25 0 1 0 2.5 0a1.25 1.25 0 1 0 -2.5 0M855.6 279.0m-1.25 0a1.25 1.25 0 1 0 2.5 0a1.25 1.25 0 1 0 -2.5 0M860.4 257.0m-1.25 0a1.25 1.25 0 1 0 2.5 0a1.25 1.25 0 1 0 -2.5 0M862.9 257.0m-1.25 0a1.25 1.25 0 1 0 2.5 0a1.25 1.25 0 1 0 -2.5 0M865.4 257.0m-1.25 0a1.25 1.25 0 1 0 2.5 0a1.25 1.25 0 1 0 -2.5 0M867.9 257.0m-1.25 0a1.25 1.25 0 1 0 2.5 0a1.25 1.25 0 1 0 -2.5 0M870.4 257.0m-1.25 0a1.25 1.25 0 1 0 2.5 0a1.25 1.25 0 1 0 -2.5 0M875.3 333.0m-1.25 0a1.25 1.25 0 1 0 2.5 0a1.25 1.25 0 1 0 -2.5 0M877.8 333.0m-1.25 0a1.25 1.25 0 1 0 2.5 0a1.25 1.25 0 1 0 -2.5 0M880.3 333.0m-1.25 0a1.25 1.25 0 1 0 2.5 0a1.25 1.25 0 1 0 -2.5 0M882.8 333.0m-1.25 0a1.25 1.25 0 1 0 2.5 0a1.25 1.25 0 1 0 -2.5 0M885.3 333.0m-1.25 0a1.25 1.25 0 1 0 2.5 0a1.25 1.25 0 1 0 -2.5 0M890.3 279.6m-1.25 0a1.25 1.25 0 1 0 2.5 0a1.25 1.25 0 1 0 -2.5 0M892.8 279.6m-1.25 0a1.25 1.25 0 1 0 2.5 0a1.25 1.25 0 1 0 -2.5 0M895.3 279.6m-1.25 0a1.25 1.25 0 1 0 2.5 0a1.25 1.25 0 1 0 -2.5 0M897.8 279.6m-1.25 0a1.25 1.25 0 1 0 2.5 0a1.25 1.25 0 1 0 -2.5 0M900.3 279.6m-1.25 0a1.25 1.25 0 1 0 2.5 0a1.25 1.25 0 1 0 -2.5 0M905.2 244.7m-1.25 0a1.25 1.25 0 1 0 2.5 0a1.25 1.25 0 1 0 -2.5 0M907.7 244.7m-1.25 0a1.25 1.25 0 1 0 2.5 0a1.25 1.25 0 1 0 -2.5 0M910.2 244.7m-1.25 0a1.25 1.25 0 1 0 2.5 0a1.25 1.25 0 1 0 -2.5 0M912.7 244.7m-1.25 0a1.25 1.25 0 1 0 2.5 0a1.25 1.25 0 1 0 -2.5 0M915.2 244.7m-1.25 0a1.25 1.25 0 1 0 2.5 0a1.25 1.25 0 1 0 -2.5 0M920.3 230.0m-1.25 0a1.25 1.25 0 1 0 2.5 0a1.25 1.25 0 1 0 -2.5 0M922.8 230.0m-1.25 0a1.25 1.25 0 1 0 2.5 0a1.25 1.25 0 1 0 -2.5 0M925.3 230.0m-1.25 0a1.25 1.25 0 1 0 2.5 0a1.25 1.25 0 1 0 -2.5 0M927.8 230.0m-1.25 0a1.25 1.25 0 1 0 2.5 0a1.25 1.25 0 1 0 -2.5 0M930.3 230.0m-1.25 0a1.25 1.25 0 1 0 2.5 0a1.25 1.25 0 1 0 -2.5 0M947.6 212.4m-1.25 0a1.25 1.25 0 1 0 2.5 0a1.25 1.25 0 1 0 -2.5 0M950.1 212.4m-1.25 0a1.25 1.25 0 1 0 2.5 0a1.25 1.25 0 1 0 -2.5 0M952.6 212.4m-1.25 0a1.25 1.25 0 1 0 2.5 0a1.25 1.25 0 1 0 -2.5 0M955.1 212.4m-1.25 0a1.25 1.25 0 1 0 2.5 0a1.25 1.25 0 1 0 -2.5 0M957.6 212.4m-1.25 0a1.25 1.25 0 1 0 2.5 0a1.25 1.25 0 1 0 -2.5 0M962.6 169.0m-1.25 0a1.25 1.25 0 1 0 2.5 0a1.25 1.25 0 1 0 -2.5 0M965.1 169.0m-1.25 0a1.25 1.25 0 1 0 2.5 0a1.25 1.25 0 1 0 -2.5 0M967.6 169.0m-1.25 0a1.25 1.25 0 1 0 2.5 0a1.25 1.25 0 1 0 -2.5 0M970.1 169.0m-1.25 0a1.25 1.25 0 1 0 2.5 0a1.25 1.25 0 1 0 -2.5 0M972.6 169.0m-1.25 0a1.25 1.25 0 1 0 2.5 0a1.25 1.25 0 1 0 -2.5 0M977.6 199.6m-1.25 0a1.25 1.25 0 1 0 2.5 0a1.25 1.25 0 1 0 -2.5 0M980.1 199.6m-1.25 0a1.25 1.25 0 1 0 2.5 0a1.25 1.25 0 1 0 -2.5 0M982.6 199.6m-1.25 0a1.25 1.25 0 1 0 2.5 0a1.25 1.25 0 1 0 -2.5 0M985.1 199.6m-1.25 0a1.25 1.25 0 1 0 2.5 0a1.25 1.25 0 1 0 -2.5 0M987.6 199.6m-1.25 0a1.25 1.25 0 1 0 2.5 0a1.25 1.25 0 1 0 -2.5 0M992.6 172.6m-1.25 0a1.25 1.25 0 1 0 2.5 0a1.25 1.25 0 1 0 -2.5 0M995.1 172.6m-1.25 0a1.25 1.25 0 1 0 2.5 0a1.25 1.25 0 1 0 -2.5 0M997.6 172.6m-1.25 0a1.25 1.25 0 1 0 2.5 0a1.25 1.25 0 1 0 -2.5 0M1000.1 172.6m-1.25 0a1.25 1.25 0 1 0 2.5 0a1.25 1.25 0 1 0 -2.5 0M1002.6 172.6m-1.25 0a1.25 1.25 0 1 0 2.5 0a1.25 1.25 0 1 0 -2.5 0M1007.6 194.0m-1.25 0a1.25 1.25 0 1 0 2.5 0a1.25 1.25 0 1 0 -2.5 0M1010.1 194.0m-1.25 0a1.25 1.25 0 1 0 2.5 0a1.25 1.25 0 1 0 -2.5 0M1012.6 194.0m-1.25 0a1.25 1.25 0 1 0 2.5 0a1.25 1.25 0 1 0 -2.5 0M1015.1 194.0m-1.25 0a1.25 1.25 0 1 0 2.5 0a1.25 1.25 0 1 0 -2.5 0M1017.6 194.0m-1.25 0a1.25 1.25 0 1 0 2.5 0a1.25 1.25 0 1 0 -2.5 0M1022.6 156.8m-1.25 0a1.25 1.25 0 1 0 2.5 0a1.25 1.25 0 1 0 -2.5 0M1025.1 156.8m-1.25 0a1.25 1.25 0 1 0 2.5 0a1.25 1.25 0 1 0 -2.5 0M1027.6 156.8m-1.25 0a1.25 1.25 0 1 0 2.5 0a1.25 1.25 0 1 0 -2.5 0M1030.1 156.8m-1.25 0a1.25 1.25 0 1 0 2.5 0a1.25 1.25 0 1 0 -2.5 0M1032.6 156.8m-1.25 0a1.25 1.25 0 1 0 2.5 0a1.25 1.25 0 1 0 -2.5 0M1037.6 187.0m-1.25 0a1.25 1.25 0 1 0 2.5 0a1.25 1.25 0 1 0 -2.5 0M1040.1 187.0m-1.25 0a1.25 1.25 0 1 0 2.5 0a1.25 1.25 0 1 0 -2.5 0M1042.6 187.0m-1.25 0a1.25 1.25 0 1 0 2.5 0a1.25 1.25 0 1 0 -2.5 0M1045.1 187.0m-1.25 0a1.25 1.25 0 1 0 2.5 0a1.25 1.25 0 1 0 -2.5 0M1047.6 187.0m-1.25 0a1.25 1.25 0 1 0 2.5 0a1.25 1.25 0 1 0 -2.5 0M1052.6 138.0m-1.25 0a1.25 1.25 0 1 0 2.5 0a1.25 1.25 0 1 0 -2.5 0M1055.1 138.0m-1.25 0a1.25 1.25 0 1 0 2.5 0a1.25 1.25 0 1 0 -2.5 0M1057.6 138.0m-1.25 0a1.25 1.25 0 1 0 2.5 0a1.25 1.25 0 1 0 -2.5 0M1060.1 138.0m-1.25 0a1.25 1.25 0 1 0 2.5 0a1.25 1.25 0 1 0 -2.5 0M1062.6 138.0m-1.25 0a1.25 1.25 0 1 0 2.5 0a1.25 1.25 0 1 0 -2.5 0M1067.6 121.0m-1.25 0a1.25 1.25 0 1 0 2.5 0a1.25 1.25 0 1 0 -2.5 0M1070.1 121.0m-1.25 0a1.25 1.25 0 1 0 2.5 0a1.25 1.25 0 1 0 -2.5 0M1072.6 121.0m-1.25 0a1.25 1.25 0 1 0 2.5 0a1.25 1.25 0 1 0 -2.5 0M1075.1 121.0m-1.25 0a1.25 1.25 0 1 0 2.5 0a1.25 1.25 0 1 0 -2.5 0M1077.6 121.0m-1.25 0a1.25 1.25 0 1 0 2.5 0a1.25 1.25 0 1 0 -2.5 0M1082.6 143.5m-1.25 0a1.25 1.25 0 1 0 2.5 0a1.25 1.25 0 1 0 -2.5 0M1085.1 143.5m-1.25 0a1.25 1.25 0 1 0 2.5 0a1.25 1.25 0 1 0 -2.5 0M1087.6 143.5m-1.25 0a1.25 1.25 0 1 0 2.5 0a1.25 1.25 0 1 0 -2.5 0M1090.1 143.5m-1.25 0a1.25 1.25 0 1 0 2.5 0a1.25 1.25 0 1 0 -2.5 0M1092.6 143.5m-1.25 0a1.25 1.25 0 1 0 2.5 0a1.25 1.25 0 1 0 -2.5 0" fill="#3aa23a"/>
<g><rect x="9.0" y="572.6" width="14" height="2.8" fill="#454854"/><rect x="23.5" y="576.6" width="14" height="2.8" fill="#454854"/><rect x="38.5" y="513.6" width="14" height="2.8" fill="#454854"/><rect x="54.0" y="558.6" width="14" height="2.8" fill="#454854"/><rect x="69.0" y="472.6" width="14" height="2.8" fill="#454854"/><rect x="83.5" y="522.6" width="14" height="2.8" fill="#454854"/><rect x="99.0" y="509.6" width="14" height="2.8" fill="#454854"/><rect x="114.0" y="469.1" width="14" height="2.8" fill="#454854"/><rect x="129.0" y="482.6" width="14" height="2.8" fill="#454854"/><rect x="143.5" y="558.6" width="14" height="2.8" fill="#454854"/><rect x="158.5" y="512.6" width="14" height="2.8" fill="#454854"/><rect x="173.5" y="496.1" width="14" height="2.8" fill="#454854"/><rect x="188.5" y="504.6" width="14" height="2.8" fill="#454854"/><rect x="203.0" y="437.6" width="14" height="2.8" fill="#454854"/><rect x="218.0" y="433.3" width="14" height="2.8" fill="#454854"/><rect x="233.0" y="374.6" width="14" height="2.8" fill="#454854"/><rect x="247.5" y="415.1" width="14" height="2.8" fill="#454854"/><rect x="263.0" y="477.6" width="14" height="2.8" fill="#454854"/><rect x="277.5" y="491.6" width="14" height="2.8" fill="#454854"/><rect x="292.5" y="424.1" width="14" height="2.8" fill="#454854"/><rect x="307.5" y="442.3" width="14" height="2.8" fill="#454854"/><rect x="322.5" y="428.3" width="14" height="2.8" fill="#454854"/><rect x="337.5" y="397.6" width="14" height="2.8" fill="#454854"/><rect x="352.5" y="384.2" width="14" height="2.8" fill="#454854"/><rect x="367.2" y="388.6" width="14" height="2.8" fill="#454854"/><rect x="382.1" y="487.6" width="14" height="2.8" fill="#454854"/><rect x="397.1" y="487.6" width="14" height="2.8" fill="#454854"/><rect x="412.5" y="455.6" width="14" height="2.8" fill="#454854"/><rect x="426.9" y="366.2" width="14" height="2.8" fill="#454854"/><rect x="442.5" y="366.2" width="14" height="2.8" fill="#454854"/><rect x="457.3" y="352.6" width="14" height="2.8" fill="#454854"/><rect x="471.5" y="366.2" width="14" height="2.8" fill="#454854"/><rect x="486.5" y="370.2" width="14" height="2.8" fill="#454854"/><rect x="501.1" y="335.1" width="14" height="2.8" fill="#454854"/><rect x="514.5" y="312.2" width="14" height="2.8" fill="#454854"/><rect x="529.5" y="321.6" width="14" height="2.8" fill="#454854"/><rect x="544.0" y="281.3" width="14" height="2.8" fill="#454854"/><rect x="558.9" y="307.6" width="14" height="2.8" fill="#454854"/><rect x="573.9" y="272.3" width="14" height="2.8" fill="#454854"/><rect x="588.5" y="263.1" width="14" height="2.8" fill="#454854"/><rect x="603.5" y="214.0" width="14" height="2.8" fill="#454854"/><rect x="618.5" y="223.2" width="14" height="2.8" fill="#454854"/><rect x="633.5" y="142.6" width="14" height="2.8" fill="#454854"/><rect x="648.5" y="133.6" width="14" height="2.8" fill="#454854"/><rect x="663.5" y="130.6" width="14" height="2.8" fill="#454854"/><rect x="678.2" y="142.6" width="14" height="2.8" fill="#454854"/><rect x="693.1" y="223.2" width="14" height="2.8" fill="#454854"/><rect x="708.5" y="299.1" width="14" height="2.8" fill="#454854"/><rect x="723.5" y="335.0" width="14" height="2.8" fill="#454854"/><rect x="738.5" y="218.6" width="14" height="2.8" fill="#454854"/><rect x="753.5" y="223.2" width="14" height="2.8" fill="#454854"/><rect x="767.9" y="227.4" width="14" height="2.8" fill="#454854"/><rect x="782.8" y="240.6" width="14" height="2.8" fill="#454854"/><rect x="798.0" y="227.6" width="14" height="2.8" fill="#454854"/><rect x="812.5" y="200.4" width="14" height="2.8" fill="#454854"/><rect x="827.5" y="281.4" width="14" height="2.8" fill="#454854"/><rect x="842.5" y="281.4" width="14" height="2.8" fill="#454854"/><rect x="857.3" y="312.3" width="14" height="2.8" fill="#454854"/><rect x="872.2" y="290.1" width="14" height="2.8" fill="#454854"/><rect x="887.2" y="258.2" width="14" height="2.8" fill="#454854"/><rect x="902.1" y="222.6" width="14" height="2.8" fill="#454854"/><rect x="917.2" y="195.9" width="14" height="2.8" fill="#454854"/><rect x="932.2" y="204.6" width="14" height="2.8" fill="#454854"/><rect x="944.5" y="173.6" width="14" height="2.8" fill="#454854"/><rect x="959.5" y="173.6" width="14" height="2.8" fill="#454854"/><rect x="974.5" y="191.3" width="14" height="2.8" fill="#454854"/><rect x="989.5" y="191.3" width="14" height="2.8" fill="#454854"/><rect x="1004.5" y="187.4" width="14" height="2.8" fill="#454854"/><rect x="1019.5" y="124.6" width="14" height="2.8" fill="#454854"/><rect x="1034.5" y="178.3" width="14" height="2.8" fill="#454854"/><rect x="1049.5" y="129.3" width="14" height="2.8" fill="#454854"/><rect x="1064.5" y="142.2" width="14" height="2.8" fill="#454854"/><rect x="1079.5" y="129.3" width="14" height="2.8" fill="#454854"/></g>
<path d="M1527.6 113.0H1532.1v1.00H1527.6zM1510.2 114.0H1529.3v1.00H1510.2zM1512.7 115.0H1526.4v1.00H1512.7zM1504.8 116.0H1527.0v1.00H1504.8zM1496.2 117.0H1510.8v1.00H1496.2zM1494.2 118.0H1513.8v1.00H1494.2zM1479.2 119.0H1515.0v1.00H1479.2zM1458.9 120.0H1500.7v1.00H1458.9zM1452.0 121.0H1488.0v1.00H1452.0zM1442.3 122.0H1475.3v1.00H1442.3zM1416.8 123.0H1465.3v1.00H1416.8zM1392.5 124.0H1458.0v1.00H1392.5zM1368.2 125.0H1455.7v1.00H1368.2zM1353.2 126.0H1446.5v1.00H1353.2zM1347.8 127.0H1445.5v1.00H1347.8zM1342.2 128.0H1448.1v1.00H1342.2zM1329.5 129.0H1447.1v1.00H1329.5zM1334.0 130.0H1446.2v1.00H1334.0zM1334.0 131.0H1437.0v1.00H1334.0zM1334.0 132.0H1444.2v1.00H1334.0zM1334.0 133.0H1444.8v1.00H1334.0zM1326.5 134.0H1445.0v1.00H1326.5zM1328.8 135.0H1445.0v1.00H1328.8zM1325.2 136.0H1445.0v1.00H1325.2zM1321.8 137.0H1445.0v1.00H1321.8zM1310.5 138.0H1447.8v1.00H1310.5zM1291.5 139.0H1455.7v1.00H1291.5zM1283.7 140.0H1456.0v1.00H1283.7zM1287.0 141.0H1456.0v1.00H1287.0zM1280.1 142.0H1456.0v1.00H1280.1zM1299.0 143.0H1457.8v1.00H1299.0zM1313.0 144.0H1461.5v1.00H1313.0zM1327.0 145.0H1465.2v1.00H1327.0zM1344.6 146.0H1473.9v1.00H1344.6zM1373.1 147.0H1471.5v1.00H1373.1zM1387.1 148.0H1480.1v1.00H1387.1zM1408.4 149.0H1477.5v1.00H1408.4zM1425.2 150.0H1482.8v1.00H1425.2zM1437.8 151.0H1490.2v1.00H1437.8zM1450.2 152.0H1497.8v1.00H1450.2zM1462.8 153.0H1505.2v1.00H1462.8zM1482.2 154.0H1510.0v1.00H1482.2zM1493.4 155.0H1512.0v1.00H1493.4zM1513.0 156.0H1514.0v1.00H1513.0zM1511.7 157.0H1514.2v1.00H1511.7zM1509.0 158.0H1509.5v1.00H1509.0zM1506.3 159.0H1510.8v1.00H1506.3zM1503.0 160.0H1513.4v1.00H1503.0zM1502.8 161.0H1505.9v1.00H1502.8zM1495.0 162.0H1503.1v1.00H1495.0zM1497.7 163.0H1500.4v1.00H1497.7zM1484.0 164.0H1500.7v1.00H1484.0zM1474.0 165.0H1483.9v1.00H1474.0zM1464.0 166.0H1480.2v1.00H1464.0zM1445.9 167.0H1472.8v1.00H1445.9zM1444.0 168.0H1465.5v1.00H1444.0zM1441.7 169.0H1458.5v1.00H1441.7zM1424.0 170.0H1451.5v1.00H1424.0zM1414.0 171.0H1444.5v1.00H1414.0zM1408.8 172.0H1441.0v1.00H1408.8zM1394.9 173.0H1441.0v1.00H1394.9zM1385.5 174.0H1441.0v1.00H1385.5zM1383.3 175.0H1445.8v1.00H1383.3zM1373.0 176.0H1441.0v1.00H1373.0zM1369.1 177.0H1441.8v1.00H1369.1zM1372.5 178.0H1447.5v1.00H1372.5zM1379.5 179.0H1445.0v1.00H1379.5zM1389.9 180.0H1451.3v1.00H1389.9zM1393.5 181.0H1440.7v1.00H1393.5zM1386.2 182.0H1442.1v1.00H1386.2zM1395.2 183.0H1445.0v1.00H1395.2zM1394.1 184.0H1448.3v1.00H1394.1zM1396.0 185.0H1439.7v1.00H1396.0zM1382.4 186.0H1442.6v1.00H1382.4zM1390.6 187.0H1434.3v1.00H1390.6zM1386.3 188.0H1426.0v1.00H1386.3zM1375.5 189.0H1434.0v1.00H1375.5zM1371.7 190.0H1434.7v1.00H1371.7zM1364.3 191.0H1431.6v1.00H1364.3zM1357.0 192.0H1436.0v1.00H1357.0zM1349.7 193.0H1436.7v1.00H1349.7zM1344.0 194.0H1437.2v1.00H1344.0zM1340.0 195.0H1441.3v1.00H1340.0zM1336.0 196.0H1438.0v1.00H1336.0zM1338.3 197.0H1438.4v1.00H1338.3zM1333.3 198.0H1438.8v1.00H1333.3zM1329.4 199.0H1442.4v1.00H1329.4zM1344.0 200.0H1444.5v1.00H1344.0zM1343.0 201.0H1456.0v1.00H1343.0zM1349.8 202.0H1462.8v1.00H1349.8zM1356.6 203.0H1469.6v1.00H1356.6zM1359.2 204.0H1470.2v1.00H1359.2zM1353.6 205.0H1469.1v1.00H1353.6zM1355.8 206.0H1458.8v1.00H1355.8zM1354.2 207.0H1448.6v1.00H1354.2zM1352.5 208.0H1447.5v1.00H1352.5zM1350.8 209.0H1441.8v1.00H1350.8zM1347.4 210.0H1438.2v1.00H1347.4zM1342.3 211.0H1436.7v1.00H1342.3zM1337.1 212.0H1439.2v1.00H1337.1zM1332.0 213.0H1433.7v1.00H1332.0zM1326.8 214.0H1432.2v1.00H1326.8zM1321.7 215.0H1430.7v1.00H1321.7zM1316.5 216.0H1429.2v1.00H1316.5zM1317.9 217.0H1422.5v1.00H1317.9zM1312.6 218.0H1415.3v1.00H1312.6zM1300.9 219.0H1403.7v1.00H1300.9zM1295.7 220.0H1395.6v1.00H1295.7zM1290.5 221.0H1393.7v1.00H1290.5zM1288.2 222.0H1393.7v1.00H1288.2zM1286.1 223.0H1394.6v1.00H1286.1zM1284.1 224.0H1395.4v1.00H1284.1zM1272.2 225.0H1396.2v1.00H1272.2zM1275.2 226.0H1397.0v1.00H1275.2zM1290.0 227.0H1399.4v1.00H1290.0zM1303.0 228.0H1401.8v1.00H1303.0zM1310.0 229.0H1404.2v1.00H1310.0zM1320.0 230.0H1406.6v1.00H1320.0zM1330.0 231.0H1409.0v1.00H1330.0zM1347.2 232.0H1418.7v1.00H1347.2zM1354.3 233.0H1423.8v1.00H1354.3zM1366.8 234.0H1438.0v1.00H1366.8zM1370.0 235.0H1447.7v1.00H1370.0zM1380.0 236.0H1457.3v1.00H1380.0zM1390.0 237.0H1467.0v1.00H1390.0zM1396.5 238.0H1471.3v1.00H1396.5zM1403.0 239.0H1467.7v1.00H1403.0zM1404.3 240.0H1468.0v1.00H1404.3zM1416.0 241.0H1468.3v1.00H1416.0zM1422.5 242.0H1468.7v1.00H1422.5zM1429.0 243.0H1469.0v1.00H1429.0zM1436.0 244.0H1467.6v1.00H1436.0zM1437.7 245.0H1482.0v1.00H1437.7zM1442.0 246.0H1490.0v1.00H1442.0zM1446.3 247.0H1489.0v1.00H1446.3zM1450.7 248.0H1494.0v1.00H1450.7zM1462.3 249.0H1499.0v1.00H1462.3zM1452.3 250.0H1494.0v1.00H1452.3zM1449.7 251.0H1493.1v1.00H1449.7zM1450.3 252.0H1484.0v1.00H1450.3zM1444.3 253.0H1479.0v1.00H1444.3zM1441.7 254.0H1474.0v1.00H1441.7zM1439.0 255.0H1469.0v1.00H1439.0zM1433.9 256.0H1467.3v1.00H1433.9zM1428.8 257.0H1465.6v1.00H1428.8zM1423.7 258.0H1468.0v1.00H1423.7zM1418.7 259.0H1465.7v1.00H1418.7zM1413.6 260.0H1465.9v1.00H1413.6zM1408.8 261.0H1459.1v1.00H1408.8zM1397.3 262.0H1460.1v1.00H1397.3zM1404.1 263.0H1454.0v1.00H1404.1zM1401.8 264.0H1462.1v1.00H1401.8zM1406.1 265.0H1463.1v1.00H1406.1zM1397.1 266.0H1464.1v1.00H1397.1zM1394.7 267.0H1469.1v1.00H1394.7zM1391.7 268.0H1466.4v1.00H1391.7zM1394.8 269.0H1473.4v1.00H1394.8zM1392.2 270.0H1469.0v1.00H1392.2zM1382.5 271.0H1470.3v1.00H1382.5zM1376.8 272.0H1466.2v1.00H1376.8zM1368.2 273.0H1456.5v1.00H1368.2zM1366.9 274.0H1446.8v1.00H1366.9zM1351.2 275.0H1437.2v1.00H1351.2zM1350.2 276.0H1427.5v1.00H1350.2zM1338.5 277.0H1417.8v1.00H1338.5zM1333.9 278.0H1411.6v1.00H1333.9zM1319.5 279.0H1408.8v1.00H1319.5zM1318.0 280.0H1406.0v1.00H1318.0zM1313.2 281.0H1403.2v1.00H1313.2zM1308.4 282.0H1400.4v1.00H1308.4zM1306.8 283.0H1399.6v1.00H1306.8zM1299.7 284.0H1403.1v1.00H1299.7zM1302.7 285.0H1402.0v1.00H1302.7zM1308.1 286.0H1403.2v1.00H1308.1zM1313.2 287.0H1404.4v1.00H1313.2zM1316.8 288.0H1408.0v1.00H1316.8zM1322.2 289.0H1414.0v1.00H1322.2zM1327.8 290.0H1420.0v1.00H1327.8zM1325.4 291.0H1426.0v1.00H1325.4zM1343.1 292.0H1432.2v1.00H1343.1zM1347.2 293.0H1438.5v1.00H1347.2zM1347.4 294.0H1444.8v1.00H1347.4zM1362.2 295.0H1444.2v1.00H1362.2zM1369.8 296.0H1457.5v1.00H1369.8zM1377.2 297.0H1463.8v1.00H1377.2zM1378.5 298.0H1467.8v1.00H1378.5zM1387.4 299.0H1472.3v1.00H1387.4zM1388.3 300.0H1471.2v1.00H1388.3zM1385.7 301.0H1472.8v1.00H1385.7zM1387.0 302.0H1474.5v1.00H1387.0zM1388.3 303.0H1476.2v1.00H1388.3zM1385.8 304.0H1475.7v1.00H1385.8zM1379.2 305.0H1473.0v1.00H1379.2zM1372.8 306.0H1470.3v1.00H1372.8zM1366.2 307.0H1467.7v1.00H1366.2zM1359.8 308.0H1465.0v1.00H1359.8zM1353.2 309.0H1462.3v1.00H1353.2zM1348.2 310.0H1454.3v1.00H1348.2zM1344.8 311.0H1458.0v1.00H1344.8zM1341.2 312.0H1456.0v1.00H1341.2zM1337.8 313.0H1454.0v1.00H1337.8zM1347.1 314.0H1455.2v1.00H1347.1zM1351.8 315.0H1464.9v1.00H1351.8zM1367.6 316.0H1469.8v1.00H1367.6zM1372.8 317.0H1473.1v1.00H1372.8zM1386.2 318.0H1477.0v1.00H1386.2zM1399.7 319.0H1476.8v1.00H1399.7zM1403.2 320.0H1480.7v1.00H1403.2zM1411.5 321.0H1484.0v1.00H1411.5zM1423.5 322.0H1487.3v1.00H1423.5zM1428.2 323.0H1490.7v1.00H1428.2zM1436.5 324.0H1496.6v1.00H1436.5zM1444.8 325.0H1497.3v1.00H1444.8zM1456.5 326.0H1500.3v1.00H1456.5zM1459.0 327.0H1503.0v1.00H1459.0zM1465.7 328.0H1505.7v1.00H1465.7zM1472.3 329.0H1510.6v1.00H1472.3zM1479.0 330.0H1511.0v1.00H1479.0zM1485.7 331.0H1518.6v1.00H1485.7zM1490.7 332.0H1519.8v1.00H1490.7zM1494.0 333.0H1519.6v1.00H1494.0zM1497.3 334.0H1517.5v1.00H1497.3zM1500.7 335.0H1518.5v1.00H1500.7zM1504.0 336.0H1519.5v1.00H1504.0zM1507.3 337.0H1526.0v1.00H1507.3zM1515.4 338.0H1520.9v1.00H1515.4zM1512.0 339.0H1520.6v1.00H1512.0zM1509.4 340.0H1520.4v1.00H1509.4zM1516.0 341.0H1522.2v1.00H1516.0zM1514.8 342.0H1518.1v1.00H1514.8zM1504.6 343.0H1519.5v1.00H1504.6zM1505.8 344.0H1510.6v1.00H1505.8zM1495.4 345.0H1506.9v1.00H1495.4zM1494.0 346.0H1508.7v1.00H1494.0zM1484.0 347.0H1502.8v1.00H1484.0zM1477.7 348.0H1506.5v1.00H1477.7zM1464.0 349.0H1499.8v1.00H1464.0zM1447.9 350.0H1500.2v1.00H1447.9zM1455.2 351.0H1502.8v1.00H1455.2zM1454.9 352.0H1505.2v1.00H1454.9zM1443.5 353.0H1507.8v1.00H1443.5zM1445.1 354.0H1508.0v1.00H1445.1zM1458.5 355.0H1506.0v1.00H1458.5zM1459.0 356.0H1504.0v1.00H1459.0zM1463.0 357.0H1502.0v1.00H1463.0zM1467.0 358.0H1500.0v1.00H1467.0zM1458.0 359.0H1492.0v1.00H1458.0zM1436.0 360.0H1478.0v1.00H1436.0zM1414.0 361.0H1464.0v1.00H1414.0zM1387.9 362.0H1450.0v1.00H1387.9zM1380.3 363.0H1443.9v1.00H1380.3zM1386.8 364.0H1445.6v1.00H1386.8zM1377.4 365.0H1447.3v1.00H1377.4zM1367.8 366.0H1449.0v1.00H1367.8zM1377.9 367.0H1452.9v1.00H1377.9zM1377.0 368.0H1455.8v1.00H1377.0zM1376.0 369.0H1456.2v1.00H1376.0zM1372.7 370.0H1454.0v1.00H1372.7zM1376.1 371.0H1459.7v1.00H1376.1zM1379.6 372.0H1459.8v1.00H1379.6zM1375.3 373.0H1466.1v1.00H1375.3zM1386.4 374.0H1469.2v1.00H1386.4zM1389.8 375.0H1472.4v1.00H1389.8zM1393.2 376.0H1475.5v1.00H1393.2zM1396.7 377.0H1474.3v1.00H1396.7zM1400.6 378.0H1479.0v1.00H1400.6zM1404.6 379.0H1479.0v1.00H1404.6zM1399.8 380.0H1479.0v1.00H1399.8zM1412.6 381.0H1473.3v1.00H1412.6zM1416.6 382.0H1479.0v1.00H1416.6zM1420.6 383.0H1479.0v1.00H1420.6zM1424.6 384.0H1479.0v1.00H1424.6zM1435.0 385.0H1479.0v1.00H1435.0zM1429.0 386.0H1479.0v1.00H1429.0zM1429.0 387.0H1479.0v1.00H1429.0zM1429.0 388.0H1479.0v1.00H1429.0zM1418.6 389.0H1479.0v1.00H1418.6zM1429.0 390.0H1479.0v1.00H1429.0zM1425.6 391.0H1479.0v1.00H1425.6zM1426.6 392.0H1477.5v1.00H1426.6zM1429.6 393.0H1479.7v1.00H1429.6zM1421.1 394.0H1466.3v1.00H1421.1zM1418.4 395.0H1472.4v1.00H1418.4zM1411.2 396.0H1470.7v1.00H1411.2zM1413.0 397.0H1471.5v1.00H1413.0zM1405.3 398.0H1468.3v1.00H1405.3zM1409.9 399.0H1467.7v1.00H1409.9zM1405.0 400.0H1467.0v1.00H1405.0zM1404.4 401.0H1466.3v1.00H1404.4zM1399.7 402.0H1465.7v1.00H1399.7zM1399.6 403.0H1465.0v1.00H1399.6zM1407.7 404.0H1471.0v1.00H1407.7zM1411.4 405.0H1469.8v1.00H1411.4zM1429.0 406.0H1475.4v1.00H1429.0zM1439.7 407.0H1492.3v1.00H1439.7zM1450.3 408.0H1495.0v1.00H1450.3zM1464.7 409.0H1501.0v1.00H1464.7zM1462.0 410.0H1494.7v1.00H1462.0zM1463.0 411.0H1500.5v1.00H1463.0zM1455.8 412.0H1500.2v1.00H1455.8zM1465.0 413.0H1500.0v1.00H1465.0zM1466.0 414.0H1499.8v1.00H1466.0zM1467.0 415.0H1499.5v1.00H1467.0zM1468.0 416.0H1499.2v1.00H1468.0zM1469.0 417.0H1499.0v1.00H1469.0zM1463.9 418.0H1501.8v1.00H1463.9zM1458.9 419.0H1503.3v1.00H1458.9zM1448.6 420.0H1499.0v1.00H1448.6zM1448.7 421.0H1499.0v1.00H1448.7zM1443.7 422.0H1496.6v1.00H1443.7zM1444.9 423.0H1499.0v1.00H1444.9zM1433.6 424.0H1501.3v1.00H1433.6zM1432.6 425.0H1498.7v1.00H1432.6zM1424.5 426.0H1497.7v1.00H1424.5zM1415.0 427.0H1492.0v1.00H1415.0zM1408.3 428.0H1491.2v1.00H1408.3zM1401.7 429.0H1485.3v1.00H1401.7zM1386.8 430.0H1485.9v1.00H1386.8zM1393.3 431.0H1483.4v1.00H1393.3zM1387.3 432.0H1477.7v1.00H1387.3zM1385.7 433.0H1476.5v1.00H1385.7zM1390.1 434.0H1469.7v1.00H1390.1zM1376.6 435.0H1474.2v1.00H1376.6zM1381.0 436.0H1473.0v1.00H1381.0z" fill="#2f2f31" shape-rendering="crispEdges"/>
<path d="M1532.1 113.0H1546v1.00H1532.1zM1529.3 114.0H1546v1.00H1529.3zM1526.4 115.0H1546v1.00H1526.4zM1527.0 116.0H1546v1.00H1527.0zM1510.8 117.0H1546v1.00H1510.8zM1513.8 118.0H1546v1.00H1513.8zM1515.0 119.0H1546v1.00H1515.0zM1500.7 120.0H1546v1.00H1500.7zM1488.0 121.0H1546v1.00H1488.0zM1475.3 122.0H1546v1.00H1475.3zM1465.3 123.0H1546v1.00H1465.3zM1458.0 124.0H1546v1.00H1458.0zM1455.7 125.0H1546v1.00H1455.7zM1446.5 126.0H1546v1.00H1446.5zM1445.5 127.0H1546v1.00H1445.5zM1448.1 128.0H1546v1.00H1448.1zM1447.1 129.0H1546v1.00H1447.1zM1446.2 130.0H1546v1.00H1446.2zM1437.0 131.0H1546v1.00H1437.0zM1444.2 132.0H1546v1.00H1444.2zM1444.8 133.0H1546v1.00H1444.8zM1445.0 134.0H1546v1.00H1445.0zM1445.0 135.0H1546v1.00H1445.0zM1445.0 136.0H1546v1.00H1445.0zM1445.0 137.0H1546v1.00H1445.0zM1447.8 138.0H1546v1.00H1447.8zM1455.7 139.0H1546v1.00H1455.7zM1456.0 140.0H1546v1.00H1456.0zM1456.0 141.0H1546v1.00H1456.0zM1456.0 142.0H1546v1.00H1456.0zM1457.8 143.0H1546v1.00H1457.8zM1461.5 144.0H1546v1.00H1461.5zM1465.2 145.0H1546v1.00H1465.2zM1473.9 146.0H1546v1.00H1473.9zM1471.5 147.0H1546v1.00H1471.5zM1480.1 148.0H1546v1.00H1480.1zM1477.5 149.0H1546v1.00H1477.5zM1482.8 150.0H1546v1.00H1482.8zM1490.2 151.0H1546v1.00H1490.2zM1497.8 152.0H1546v1.00H1497.8zM1505.2 153.0H1546v1.00H1505.2zM1510.0 154.0H1546v1.00H1510.0zM1512.0 155.0H1546v1.00H1512.0zM1514.0 156.0H1546v1.00H1514.0zM1514.2 157.0H1546v1.00H1514.2zM1509.5 158.0H1546v1.00H1509.5zM1510.8 159.0H1546v1.00H1510.8zM1513.4 160.0H1546v1.00H1513.4zM1505.9 161.0H1546v1.00H1505.9zM1503.1 162.0H1546v1.00H1503.1zM1500.4 163.0H1546v1.00H1500.4zM1500.7 164.0H1546v1.00H1500.7zM1483.9 165.0H1546v1.00H1483.9zM1480.2 166.0H1546v1.00H1480.2zM1472.8 167.0H1546v1.00H1472.8zM1465.5 168.0H1546v1.00H1465.5zM1458.5 169.0H1546v1.00H1458.5zM1451.5 170.0H1546v1.00H1451.5zM1444.5 171.0H1546v1.00H1444.5zM1441.0 172.0H1546v1.00H1441.0zM1441.0 173.0H1546v1.00H1441.0zM1441.0 174.0H1546v1.00H1441.0zM1445.8 175.0H1546v1.00H1445.8zM1441.0 176.0H1546v1.00H1441.0zM1441.8 177.0H1546v1.00H1441.8zM1447.5 178.0H1546v1.00H1447.5zM1445.0 179.0H1546v1.00H1445.0zM1451.3 180.0H1546v1.00H1451.3zM1440.7 181.0H1546v1.00H1440.7zM1442.1 182.0H1546v1.00H1442.1zM1445.0 183.0H1546v1.00H1445.0zM1448.3 184.0H1546v1.00H1448.3zM1439.7 185.0H1546v1.00H1439.7zM1442.6 186.0H1546v1.00H1442.6zM1434.3 187.0H1546v1.00H1434.3zM1426.0 188.0H1546v1.00H1426.0zM1434.0 189.0H1546v1.00H1434.0zM1434.7 190.0H1546v1.00H1434.7zM1431.6 191.0H1546v1.00H1431.6zM1436.0 192.0H1546v1.00H1436.0zM1436.7 193.0H1546v1.00H1436.7zM1437.2 194.0H1546v1.00H1437.2zM1441.3 195.0H1546v1.00H1441.3zM1438.0 196.0H1546v1.00H1438.0zM1438.4 197.0H1546v1.00H1438.4zM1438.8 198.0H1546v1.00H1438.8zM1442.4 199.0H1546v1.00H1442.4zM1444.5 200.0H1546v1.00H1444.5zM1456.0 201.0H1546v1.00H1456.0zM1462.8 202.0H1546v1.00H1462.8zM1469.6 203.0H1546v1.00H1469.6zM1470.2 204.0H1546v1.00H1470.2zM1469.1 205.0H1546v1.00H1469.1zM1458.8 206.0H1546v1.00H1458.8zM1448.6 207.0H1546v1.00H1448.6zM1447.5 208.0H1546v1.00H1447.5zM1441.8 209.0H1546v1.00H1441.8zM1438.2 210.0H1546v1.00H1438.2zM1436.7 211.0H1546v1.00H1436.7zM1439.2 212.0H1546v1.00H1439.2zM1433.7 213.0H1546v1.00H1433.7zM1432.2 214.0H1546v1.00H1432.2zM1430.7 215.0H1546v1.00H1430.7zM1429.2 216.0H1546v1.00H1429.2zM1422.5 217.0H1546v1.00H1422.5zM1415.3 218.0H1546v1.00H1415.3zM1403.7 219.0H1546v1.00H1403.7zM1395.6 220.0H1546v1.00H1395.6zM1393.7 221.0H1546v1.00H1393.7zM1393.7 222.0H1546v1.00H1393.7zM1394.6 223.0H1546v1.00H1394.6zM1395.4 224.0H1546v1.00H1395.4zM1396.2 225.0H1546v1.00H1396.2zM1397.0 226.0H1546v1.00H1397.0zM1399.4 227.0H1546v1.00H1399.4zM1401.8 228.0H1546v1.00H1401.8zM1404.2 229.0H1546v1.00H1404.2zM1406.6 230.0H1546v1.00H1406.6zM1409.0 231.0H1546v1.00H1409.0zM1418.7 232.0H1546v1.00H1418.7zM1423.8 233.0H1546v1.00H1423.8zM1438.0 234.0H1546v1.00H1438.0zM1447.7 235.0H1546v1.00H1447.7zM1457.3 236.0H1546v1.00H1457.3zM1467.0 237.0H1546v1.00H1467.0zM1471.3 238.0H1546v1.00H1471.3zM1467.7 239.0H1546v1.00H1467.7zM1468.0 240.0H1546v1.00H1468.0zM1468.3 241.0H1546v1.00H1468.3zM1468.7 242.0H1546v1.00H1468.7zM1469.0 243.0H1546v1.00H1469.0zM1467.6 244.0H1546v1.00H1467.6zM1482.0 245.0H1546v1.00H1482.0zM1490.0 246.0H1546v1.00H1490.0zM1489.0 247.0H1546v1.00H1489.0zM1494.0 248.0H1546v1.00H1494.0zM1499.0 249.0H1546v1.00H1499.0zM1494.0 250.0H1546v1.00H1494.0zM1493.1 251.0H1546v1.00H1493.1zM1484.0 252.0H1546v1.00H1484.0zM1479.0 253.0H1546v1.00H1479.0zM1474.0 254.0H1546v1.00H1474.0zM1469.0 255.0H1546v1.00H1469.0zM1467.3 256.0H1546v1.00H1467.3zM1465.6 257.0H1546v1.00H1465.6zM1468.0 258.0H1546v1.00H1468.0zM1465.7 259.0H1546v1.00H1465.7zM1465.9 260.0H1546v1.00H1465.9zM1459.1 261.0H1546v1.00H1459.1zM1460.1 262.0H1546v1.00H1460.1zM1454.0 263.0H1546v1.00H1454.0zM1462.1 264.0H1546v1.00H1462.1zM1463.1 265.0H1546v1.00H1463.1zM1464.1 266.0H1546v1.00H1464.1zM1469.1 267.0H1546v1.00H1469.1zM1466.4 268.0H1546v1.00H1466.4zM1473.4 269.0H1546v1.00H1473.4zM1469.0 270.0H1546v1.00H1469.0zM1470.3 271.0H1546v1.00H1470.3zM1466.2 272.0H1546v1.00H1466.2zM1456.5 273.0H1546v1.00H1456.5zM1446.8 274.0H1546v1.00H1446.8zM1437.2 275.0H1546v1.00H1437.2zM1427.5 276.0H1546v1.00H1427.5zM1417.8 277.0H1546v1.00H1417.8zM1411.6 278.0H1546v1.00H1411.6zM1408.8 279.0H1546v1.00H1408.8zM1406.0 280.0H1546v1.00H1406.0zM1403.2 281.0H1546v1.00H1403.2zM1400.4 282.0H1546v1.00H1400.4zM1399.6 283.0H1546v1.00H1399.6zM1403.1 284.0H1546v1.00H1403.1zM1402.0 285.0H1546v1.00H1402.0zM1403.2 286.0H1546v1.00H1403.2zM1404.4 287.0H1546v1.00H1404.4zM1408.0 288.0H1546v1.00H1408.0zM1414.0 289.0H1546v1.00H1414.0zM1420.0 290.0H1546v1.00H1420.0zM1426.0 291.0H1546v1.00H1426.0zM1432.2 292.0H1546v1.00H1432.2zM1438.5 293.0H1546v1.00H1438.5zM1444.8 294.0H1546v1.00H1444.8zM1444.2 295.0H1546v1.00H1444.2zM1457.5 296.0H1546v1.00H1457.5zM1463.8 297.0H1546v1.00H1463.8zM1467.8 298.0H1546v1.00H1467.8zM1472.3 299.0H1546v1.00H1472.3zM1471.2 300.0H1546v1.00H1471.2zM1472.8 301.0H1546v1.00H1472.8zM1474.5 302.0H1546v1.00H1474.5zM1476.2 303.0H1546v1.00H1476.2zM1475.7 304.0H1546v1.00H1475.7zM1473.0 305.0H1546v1.00H1473.0zM1470.3 306.0H1546v1.00H1470.3zM1467.7 307.0H1546v1.00H1467.7zM1465.0 308.0H1546v1.00H1465.0zM1462.3 309.0H1546v1.00H1462.3zM1454.3 310.0H1546v1.00H1454.3zM1458.0 311.0H1546v1.00H1458.0zM1456.0 312.0H1546v1.00H1456.0zM1454.0 313.0H1546v1.00H1454.0zM1455.2 314.0H1546v1.00H1455.2zM1464.9 315.0H1546v1.00H1464.9zM1469.8 316.0H1546v1.00H1469.8zM1473.1 317.0H1546v1.00H1473.1zM1477.0 318.0H1546v1.00H1477.0zM1476.8 319.0H1546v1.00H1476.8zM1480.7 320.0H1546v1.00H1480.7zM1484.0 321.0H1546v1.00H1484.0zM1487.3 322.0H1546v1.00H1487.3zM1490.7 323.0H1546v1.00H1490.7zM1496.6 324.0H1546v1.00H1496.6zM1497.3 325.0H1546v1.00H1497.3zM1500.3 326.0H1546v1.00H1500.3zM1503.0 327.0H1546v1.00H1503.0zM1505.7 328.0H1546v1.00H1505.7zM1510.6 329.0H1546v1.00H1510.6zM1511.0 330.0H1546v1.00H1511.0zM1518.6 331.0H1546v1.00H1518.6zM1519.8 332.0H1546v1.00H1519.8zM1519.6 333.0H1546v1.00H1519.6zM1517.5 334.0H1546v1.00H1517.5zM1518.5 335.0H1546v1.00H1518.5zM1519.5 336.0H1546v1.00H1519.5zM1526.0 337.0H1546v1.00H1526.0zM1520.9 338.0H1546v1.00H1520.9zM1520.6 339.0H1546v1.00H1520.6zM1520.4 340.0H1546v1.00H1520.4zM1522.2 341.0H1546v1.00H1522.2zM1518.1 342.0H1546v1.00H1518.1zM1519.5 343.0H1546v1.00H1519.5zM1510.6 344.0H1546v1.00H1510.6zM1506.9 345.0H1546v1.00H1506.9zM1508.7 346.0H1546v1.00H1508.7zM1502.8 347.0H1546v1.00H1502.8zM1506.5 348.0H1546v1.00H1506.5zM1499.8 349.0H1546v1.00H1499.8zM1500.2 350.0H1546v1.00H1500.2zM1502.8 351.0H1546v1.00H1502.8zM1505.2 352.0H1546v1.00H1505.2zM1507.8 353.0H1546v1.00H1507.8zM1508.0 354.0H1546v1.00H1508.0zM1506.0 355.0H1546v1.00H1506.0zM1504.0 356.0H1546v1.00H1504.0zM1502.0 357.0H1546v1.00H1502.0zM1500.0 358.0H1546v1.00H1500.0zM1492.0 359.0H1546v1.00H1492.0zM1478.0 360.0H1546v1.00H1478.0zM1464.0 361.0H1546v1.00H1464.0zM1450.0 362.0H1546v1.00H1450.0zM1443.9 363.0H1546v1.00H1443.9zM1445.6 364.0H1546v1.00H1445.6zM1447.3 365.0H1546v1.00H1447.3zM1449.0 366.0H1546v1.00H1449.0zM1452.9 367.0H1546v1.00H1452.9zM1455.8 368.0H1546v1.00H1455.8zM1456.2 369.0H1546v1.00H1456.2zM1454.0 370.0H1546v1.00H1454.0zM1459.7 371.0H1546v1.00H1459.7zM1459.8 372.0H1546v1.00H1459.8zM1466.1 373.0H1546v1.00H1466.1zM1469.2 374.0H1546v1.00H1469.2zM1472.4 375.0H1546v1.00H1472.4zM1475.5 376.0H1546v1.00H1475.5zM1474.3 377.0H1546v1.00H1474.3zM1479.0 378.0H1546v1.00H1479.0zM1479.0 379.0H1546v1.00H1479.0zM1479.0 380.0H1546v1.00H1479.0zM1473.3 381.0H1546v1.00H1473.3zM1479.0 382.0H1546v1.00H1479.0zM1479.0 383.0H1546v1.00H1479.0zM1479.0 384.0H1546v1.00H1479.0zM1479.0 385.0H1546v1.00H1479.0zM1479.0 386.0H1546v1.00H1479.0zM1479.0 387.0H1546v1.00H1479.0zM1479.0 388.0H1546v1.00H1479.0zM1479.0 389.0H1546v1.00H1479.0zM1479.0 390.0H1546v1.00H1479.0zM1479.0 391.0H1546v1.00H1479.0zM1477.5 392.0H1546v1.00H1477.5zM1479.7 393.0H1546v1.00H1479.7zM1466.3 394.0H1546v1.00H1466.3zM1472.4 395.0H1546v1.00H1472.4zM1470.7 396.0H1546v1.00H1470.7zM1471.5 397.0H1546v1.00H1471.5zM1468.3 398.0H1546v1.00H1468.3zM1467.7 399.0H1546v1.00H1467.7zM1467.0 400.0H1546v1.00H1467.0zM1466.3 401.0H1546v1.00H1466.3zM1465.7 402.0H1546v1.00H1465.7zM1465.0 403.0H1546v1.00H1465.0zM1471.0 404.0H1546v1.00H1471.0zM1469.8 405.0H1546v1.00H1469.8zM1475.4 406.0H1546v1.00H1475.4zM1492.3 407.0H1546v1.00H1492.3zM1495.0 408.0H1546v1.00H1495.0zM1501.0 409.0H1546v1.00H1501.0zM1494.7 410.0H1546v1.00H1494.7zM1500.5 411.0H1546v1.00H1500.5zM1500.2 412.0H1546v1.00H1500.2zM1500.0 413.0H1546v1.00H1500.0zM1499.8 414.0H1546v1.00H1499.8zM1499.5 415.0H1546v1.00H1499.5zM1499.2 416.0H1546v1.00H1499.2zM1499.0 417.0H1546v1.00H1499.0zM1501.8 418.0H1546v1.00H1501.8zM1503.3 419.0H1546v1.00H1503.3zM1499.0 420.0H1546v1.00H1499.0zM1499.0 421.0H1546v1.00H1499.0zM1496.6 422.0H1546v1.00H1496.6zM1499.0 423.0H1546v1.00H1499.0zM1501.3 424.0H1546v1.00H1501.3zM1498.7 425.0H1546v1.00H1498.7zM1497.7 426.0H1546v1.00H1497.7zM1492.0 427.0H1546v1.00H1492.0zM1491.2 428.0H1546v1.00H1491.2zM1485.3 429.0H1546v1.00H1485.3zM1485.9 430.0H1546v1.00H1485.9zM1483.4 431.0H1546v1.00H1483.4zM1477.7 432.0H1546v1.00H1477.7zM1476.5 433.0H1546v1.00H1476.5zM1469.7 434.0H1546v1.00H1469.7zM1474.2 435.0H1546v1.00H1474.2zM1473.0 436.0H1546v1.00H1473.0z" fill="#7b7e89" shape-rendering="crispEdges"/>
<path d="M1393.3 437.0H1469.3v1.00H1393.3zM1390.5 438.0H1474.2v1.00H1390.5zM1390.2 439.0H1475.0v1.00H1390.2zM1386.7 440.0H1470.1v1.00H1386.7zM1389.7 441.0H1470.3v1.00H1389.7zM1389.4 442.0H1470.6v1.00H1389.4zM1389.1 443.0H1473.2v1.00H1389.1zM1390.5 444.0H1468.8v1.00H1390.5zM1378.5 445.0H1461.1v1.00H1378.5zM1362.2 446.0H1460.0v1.00H1362.2zM1369.7 447.0H1457.8v1.00H1369.7zM1357.5 448.0H1451.2v1.00H1357.5zM1357.5 449.0H1451.0v1.00H1357.5zM1364.5 450.0H1455.0v1.00H1364.5zM1371.5 451.0H1459.0v1.00H1371.5zM1378.5 452.0H1456.2v1.00H1378.5zM1374.8 453.0H1467.0v1.00H1374.8zM1388.3 454.0H1469.7v1.00H1388.3zM1387.0 455.0H1471.0v1.00H1387.0zM1385.7 456.0H1472.3v1.00H1385.7zM1384.3 457.0H1477.2v1.00H1384.3zM1383.0 458.0H1475.0v1.00H1383.0zM1381.7 459.0H1480.0v1.00H1381.7zM1383.7 460.0H1477.2v1.00H1383.7zM1389.0 461.0H1469.5v1.00H1389.0zM1394.3 462.0H1474.4v1.00H1394.3zM1399.7 463.0H1478.2v1.00H1399.7zM1405.0 464.0H1478.5v1.00H1405.0zM1415.9 465.0H1478.8v1.00H1415.9zM1412.7 466.0H1478.2v1.00H1412.7zM1414.6 467.0H1482.1v1.00H1414.6zM1411.3 468.0H1474.8v1.00H1411.3zM1416.1 469.0H1477.6v1.00H1416.1zM1410.0 470.0H1471.5v1.00H1410.0zM1399.8 471.0H1475.0v1.00H1399.8zM1396.1 472.0H1467.6v1.00H1396.1zM1402.7 473.0H1464.8v1.00H1402.7zM1389.0 474.0H1462.0v1.00H1389.0zM1381.0 475.0H1459.2v1.00H1381.0zM1373.0 476.0H1456.4v1.00H1373.0zM1370.1 477.0H1453.4v1.00H1370.1zM1362.4 478.0H1450.3v1.00H1362.4zM1357.9 479.0H1453.1v1.00H1357.9zM1353.5 480.0H1449.9v1.00H1353.5zM1349.1 481.0H1435.1v1.00H1349.1zM1350.2 482.0H1440.1v1.00H1350.2zM1340.2 483.0H1434.6v1.00H1340.2zM1340.6 484.0H1436.0v1.00H1340.6zM1340.3 485.0H1442.0v1.00H1340.3zM1355.2 486.0H1448.0v1.00H1355.2zM1356.1 487.0H1454.0v1.00H1356.1zM1361.2 488.0H1455.8v1.00H1361.2zM1366.4 489.0H1466.0v1.00H1366.4zM1371.0 490.0H1469.7v1.00H1371.0zM1375.0 491.0H1471.0v1.00H1375.0zM1370.5 492.0H1472.3v1.00H1370.5zM1390.8 493.0H1473.7v1.00H1390.8zM1387.0 494.0H1480.1v1.00H1387.0zM1386.5 495.0H1481.4v1.00H1386.5zM1392.0 496.0H1475.3v1.00H1392.0zM1395.5 497.0H1472.0v1.00H1395.5zM1388.0 498.0H1468.7v1.00H1388.0zM1386.0 499.0H1459.9v1.00H1386.0zM1377.8 500.0H1465.0v1.00H1377.8zM1377.8 501.0H1461.8v1.00H1377.8zM1387.0 502.0H1456.7v1.00H1387.0zM1375.0 503.0H1453.2v1.00H1375.0zM1371.0 504.0H1455.3v1.00H1371.0zM1367.0 505.0H1454.7v1.00H1367.0zM1368.3 506.0H1454.0v1.00H1368.3zM1359.0 507.0H1453.3v1.00H1359.0zM1360.5 508.0H1454.4v1.00H1360.5zM1367.5 509.0H1459.5v1.00H1367.5zM1374.5 510.0H1465.0v1.00H1374.5zM1381.6 511.0H1462.8v1.00H1381.6zM1388.6 512.0H1465.6v1.00H1388.6zM1395.6 513.0H1468.4v1.00H1395.6zM1399.1 514.0H1470.1v1.00H1399.1zM1401.8 515.0H1471.4v1.00H1401.8zM1404.5 516.0H1472.7v1.00H1404.5zM1407.1 517.0H1474.1v1.00H1407.1zM1399.9 518.0H1471.5v1.00H1399.9zM1420.2 519.0H1479.8v1.00H1420.2zM1413.0 520.0H1477.3v1.00H1413.0zM1413.0 521.0H1482.4v1.00H1413.0zM1413.0 522.0H1477.9v1.00H1413.0zM1413.0 523.0H1478.3v1.00H1413.0zM1413.0 524.0H1478.6v1.00H1413.0zM1413.0 525.0H1478.9v1.00H1413.0zM1417.9 526.0H1473.4v1.00H1417.9zM1424.0 527.0H1482.1v1.00H1424.0zM1430.1 528.0H1483.7v1.00H1430.1zM1436.2 529.0H1485.4v1.00H1436.2zM1442.3 530.0H1487.1v1.00H1442.3zM1454.6 531.0H1488.8v1.00H1454.6zM1446.6 532.0H1492.0v1.00H1446.6zM1458.5 533.0H1495.3v1.00H1458.5zM1453.1 534.0H1498.7v1.00H1453.1zM1472.0 535.0H1507.6v1.00H1472.0zM1469.1 536.0H1505.3v1.00H1469.1zM1478.5 537.0H1508.7v1.00H1478.5zM1477.0 538.0H1511.9v1.00H1477.0zM1484.3 539.0H1515.1v1.00H1484.3zM1495.1 540.0H1518.3v1.00H1495.1zM1494.9 541.0H1521.5v1.00H1494.9zM1492.7 542.0H1524.7v1.00H1492.7zM1492.3 543.0H1522.1v1.00H1492.3zM1494.4 544.0H1518.9v1.00H1494.4zM1490.7 545.0H1515.7v1.00H1490.7zM1489.9 546.0H1515.3v1.00H1489.9zM1497.1 547.0H1509.3v1.00H1497.1zM1485.7 548.0H1511.2v1.00H1485.7zM1482.0 549.0H1502.7v1.00H1482.0zM1478.4 550.0H1499.3v1.00H1478.4zM1468.8 551.0H1501.6v1.00H1468.8zM1471.0 552.0H1492.7v1.00H1471.0zM1467.4 553.0H1489.3v1.00H1467.4zM1459.7 554.0H1488.3v1.00H1459.7zM1458.5 555.0H1491.0v1.00H1458.5zM1454.0 556.0H1486.6v1.00H1454.0zM1452.0 557.0H1485.8v1.00H1452.0zM1451.5 558.0H1485.0v1.00H1451.5zM1448.2 559.0H1487.0v1.00H1448.2zM1451.4 560.0H1489.0v1.00H1451.4zM1454.6 561.0H1491.0v1.00H1454.6zM1457.8 562.0H1493.0v1.00H1457.8zM1461.0 563.0H1495.0v1.00H1461.0zM1470.2 564.0H1497.3v1.00H1470.2zM1467.7 565.0H1499.7v1.00H1467.7zM1463.6 566.0H1502.0v1.00H1463.6zM1474.3 567.0H1504.3v1.00H1474.3zM1477.7 568.0H1499.1v1.00H1477.7zM1481.0 569.0H1512.5v1.00H1481.0zM1485.3 570.0H1516.8v1.00H1485.3zM1489.7 571.0H1516.7v1.00H1489.7zM1501.4 572.0H1515.0v1.00H1501.4zM1498.3 573.0H1517.0v1.00H1498.3zM1502.7 574.0H1519.0v1.00H1502.7zM1507.0 575.0H1521.0v1.00H1507.0zM1508.0 576.0H1521.8v1.00H1508.0zM1509.0 577.0H1522.5v1.00H1509.0zM1510.0 578.0H1523.3v1.00H1510.0zM1511.1 579.0H1524.0v1.00H1511.1zM1512.1 580.0H1524.8v1.00H1512.1zM1513.1 581.0H1525.6v1.00H1513.1zM1514.1 582.0H1526.3v1.00H1514.1zM1515.2 583.0H1527.1v1.00H1515.2zM1516.7 584.0H1528.4v1.00H1516.7zM1518.2 585.0H1529.6v1.00H1518.2zM1519.7 586.0H1530.9v1.00H1519.7zM1521.2 587.0H1532.1v1.00H1521.2zM1522.7 588.0H1533.4v1.00H1522.7zM1524.2 589.0H1534.6v1.00H1524.2zM1525.7 590.0H1535.9v1.00H1525.7zM1527.0 591.0H1537.0v1.00H1527.0zM1527.0 592.0H1537.0v1.00H1527.0zM1527.0 593.0H1537.0v1.00H1527.0zM1527.0 594.0H1537.0v1.00H1527.0zM1527.0 595.0H1537.0v1.00H1527.0zM1526.3 596.0H1536.8v1.00H1526.3zM1525.0 597.0H1536.4v1.00H1525.0zM1523.7 598.0H1536.0v1.00H1523.7zM1522.3 599.0H1535.5v1.00H1522.3zM1521.0 600.0H1535.1v1.00H1521.0zM1519.7 601.0H1534.7v1.00H1519.7zM1519.8 602.0H1535.0v1.00H1519.8zM1521.4 603.0H1536.0v1.00H1521.4zM1523.0 604.0H1537.0v1.00H1523.0zM1524.5 605.0H1538.1v1.00H1524.5zM1526.1 606.0H1539.1v1.00H1526.1zM1527.7 607.0H1540.1v1.00H1527.7zM1528.5 608.0H1540.5v1.00H1528.5zM1528.5 609.0H1540.3v1.00H1528.5zM1528.5 610.0H1540.1v1.00H1528.5zM1528.5 611.0H1539.9v1.00H1528.5zM1528.5 612.0H1539.7v1.00H1528.5zM1528.5 613.0H1539.5v1.00H1528.5zM1527.9 614.0H1538.9v1.00H1527.9zM1526.7 615.0H1538.0v1.00H1526.7zM1525.4 616.0H1537.1v1.00H1525.4zM1524.2 617.0H1536.1v1.00H1524.2zM1523.0 618.0H1535.2v1.00H1523.0zM1521.7 619.0H1534.2v1.00H1521.7zM1520.5 620.0H1533.3v1.00H1520.5zM1521.6 621.0H1533.1v1.00H1521.6zM1522.7 622.0H1532.9v1.00H1522.7zM1523.8 623.0H1532.7v1.00H1523.8zM1524.8 624.0H1532.4v1.00H1524.8zM1525.9 625.0H1532.2v1.00H1525.9zM1527.0 626.0H1532.0v1.00H1527.0zM1526.2 627.0H1532.6v1.00H1526.2zM1525.5 628.0H1533.2v1.00H1525.5zM1524.7 629.0H1533.9v1.00H1524.7zM1524.0 630.0H1534.5v1.00H1524.0zM1523.2 631.0H1535.1v1.00H1523.2zM1522.5 632.0H1535.7v1.00H1522.5zM1522.4 633.0H1535.0v1.00H1522.4zM1522.4 634.0H1534.1v1.00H1522.4zM1522.4 635.0H1533.2v1.00H1522.4zM1522.4 636.0H1532.3v1.00H1522.4zM1522.4 637.0H1531.4v1.00H1522.4zM1522.4 638.0H1530.5v1.00H1522.4zM1523.4 639.0H1531.0v1.00H1523.4zM1524.6 640.0H1531.9v1.00H1524.6zM1525.8 641.0H1532.8v1.00H1525.8zM1526.9 642.0H1533.7v1.00H1526.9zM1528.1 643.0H1534.6v1.00H1528.1zM1529.3 644.0H1535.5v1.00H1529.3zM1530.6 645.0H1536.2v1.00H1530.6zM1532.0 646.0H1536.8v1.00H1532.0zM1533.3 647.0H1537.4v1.00H1533.3zM1534.7 648.0H1537.9v1.00H1534.7zM1536.0 649.0H1538.5v1.00H1536.0zM1537.3 650.0H1539.1v1.00H1537.3zM1537.1 651.0H1538.8v1.00H1537.1zM1535.2 652.0H1537.7v1.00H1535.2zM1533.3 653.0H1536.6v1.00H1533.3zM1531.4 654.0H1535.5v1.00H1531.4zM1529.6 655.0H1534.3v1.00H1529.6zM1528.4 656.0H1533.6v1.00H1528.4zM1527.5 657.0H1532.9v1.00H1527.5zM1526.6 658.0H1532.3v1.00H1526.6zM1525.8 659.0H1531.7v1.00H1525.8zM1524.9 660.0H1531.1v1.00H1524.9zM1526.8 661.0H1532.8v1.00H1526.8zM1529.1 662.0H1534.7v1.00H1529.1zM1531.3 663.0H1536.7v1.00H1531.3zM1533.6 664.0H1538.6v1.00H1533.6zM1535.8 665.0H1540.6v1.00H1535.8zM1535.3 666.0H1540.2v1.00H1535.3zM1534.8 667.0H1539.9v1.00H1534.8zM1534.2 668.0H1539.5v1.00H1534.2zM1533.7 669.0H1539.2v1.00H1533.7zM1533.2 670.0H1538.8v1.00H1533.2zM1532.7 671.0H1538.5v1.00H1532.7zM1532.2 672.0H1538.1v1.00H1532.2zM1533.2 673.0H1539.1v1.00H1533.2zM1535.0 674.0H1540.7v1.00H1535.0zM1536.4 675.0H1541.9v1.00H1536.4zM1536.4 676.0H1541.9v1.00H1536.4zM1536.4 677.0H1541.9v1.00H1536.4zM1536.4 678.0H1541.9v1.00H1536.4zM1536.4 679.0H1541.9v1.00H1536.4zM1536.4 680.0H1541.9v1.00H1536.4zM1536.4 681.0H1541.9v1.00H1536.4zM1536.4 682.0H1541.9v1.00H1536.4zM1536.4 683.0H1541.9v1.00H1536.4zM1536.4 684.0H1541.9v1.00H1536.4zM1536.4 685.0H1541.9v1.00H1536.4zM1536.4 686.0H1541.9v1.00H1536.4zM1536.5 687.0H1542.0v1.00H1536.5zM1537.7 688.0H1542.6v1.00H1537.7zM1538.8 689.0H1543.3v1.00H1538.8z" fill="#c2c2c4" shape-rendering="crispEdges"/>
<path d="M1469.3 437.0H1546v1.00H1469.3zM1474.2 438.0H1546v1.00H1474.2zM1475.0 439.0H1546v1.00H1475.0zM1470.1 440.0H1546v1.00H1470.1zM1470.3 441.0H1546v1.00H1470.3zM1470.6 442.0H1546v1.00H1470.6zM1473.2 443.0H1546v1.00H1473.2zM1468.8 444.0H1546v1.00H1468.8zM1461.1 445.0H1546v1.00H1461.1zM1460.0 446.0H1546v1.00H1460.0zM1457.8 447.0H1546v1.00H1457.8zM1451.2 448.0H1546v1.00H1451.2zM1451.0 449.0H1546v1.00H1451.0zM1455.0 450.0H1546v1.00H1455.0zM1459.0 451.0H1546v1.00H1459.0zM1456.2 452.0H1546v1.00H1456.2zM1467.0 453.0H1546v1.00H1467.0zM1469.7 454.0H1546v1.00H1469.7zM1471.0 455.0H1546v1.00H1471.0zM1472.3 456.0H1546v1.00H1472.3zM1477.2 457.0H1546v1.00H1477.2zM1475.0 458.0H1546v1.00H1475.0zM1480.0 459.0H1546v1.00H1480.0zM1477.2 460.0H1546v1.00H1477.2zM1469.5 461.0H1546v1.00H1469.5zM1474.4 462.0H1546v1.00H1474.4zM1478.2 463.0H1546v1.00H1478.2zM1478.5 464.0H1546v1.00H1478.5zM1478.8 465.0H1546v1.00H1478.8zM1478.2 466.0H1546v1.00H1478.2zM1482.1 467.0H1546v1.00H1482.1zM1474.8 468.0H1546v1.00H1474.8zM1477.6 469.0H1546v1.00H1477.6zM1471.5 470.0H1546v1.00H1471.5zM1475.0 471.0H1546v1.00H1475.0zM1467.6 472.0H1546v1.00H1467.6zM1464.8 473.0H1546v1.00H1464.8zM1462.0 474.0H1546v1.00H1462.0zM1459.2 475.0H1546v1.00H1459.2zM1456.4 476.0H1546v1.00H1456.4zM1453.4 477.0H1546v1.00H1453.4zM1450.3 478.0H1546v1.00H1450.3zM1453.1 479.0H1546v1.00H1453.1zM1449.9 480.0H1546v1.00H1449.9zM1435.1 481.0H1546v1.00H1435.1zM1440.1 482.0H1546v1.00H1440.1zM1434.6 483.0H1546v1.00H1434.6zM1436.0 484.0H1546v1.00H1436.0zM1442.0 485.0H1546v1.00H1442.0zM1448.0 486.0H1546v1.00H1448.0zM1454.0 487.0H1546v1.00H1454.0zM1455.8 488.0H1546v1.00H1455.8zM1466.0 489.0H1546v1.00H1466.0zM1469.7 490.0H1546v1.00H1469.7zM1471.0 491.0H1546v1.00H1471.0zM1472.3 492.0H1546v1.00H1472.3zM1473.7 493.0H1546v1.00H1473.7zM1480.1 494.0H1546v1.00H1480.1zM1481.4 495.0H1546v1.00H1481.4zM1475.3 496.0H1546v1.00H1475.3zM1472.0 497.0H1546v1.00H1472.0zM1468.7 498.0H1546v1.00H1468.7zM1459.9 499.0H1546v1.00H1459.9zM1465.0 500.0H1546v1.00H1465.0zM1461.8 501.0H1546v1.00H1461.8zM1456.7 502.0H1546v1.00H1456.7zM1453.2 503.0H1546v1.00H1453.2zM1455.3 504.0H1546v1.00H1455.3zM1454.7 505.0H1546v1.00H1454.7zM1454.0 506.0H1546v1.00H1454.0zM1453.3 507.0H1546v1.00H1453.3zM1454.4 508.0H1546v1.00H1454.4zM1459.5 509.0H1546v1.00H1459.5zM1465.0 510.0H1546v1.00H1465.0zM1462.8 511.0H1546v1.00H1462.8zM1465.6 512.0H1546v1.00H1465.6zM1468.4 513.0H1546v1.00H1468.4zM1470.1 514.0H1546v1.00H1470.1zM1471.4 515.0H1546v1.00H1471.4zM1472.7 516.0H1546v1.00H1472.7zM1474.1 517.0H1546v1.00H1474.1zM1471.5 518.0H1546v1.00H1471.5zM1479.8 519.0H1546v1.00H1479.8zM1477.3 520.0H1546v1.00H1477.3zM1482.4 521.0H1546v1.00H1482.4zM1477.9 522.0H1546v1.00H1477.9zM1478.3 523.0H1546v1.00H1478.3zM1478.6 524.0H1546v1.00H1478.6zM1478.9 525.0H1546v1.00H1478.9zM1473.4 526.0H1546v1.00H1473.4zM1482.1 527.0H1546v1.00H1482.1zM1483.7 528.0H1546v1.00H1483.7zM1485.4 529.0H1546v1.00H1485.4zM1487.1 530.0H1546v1.00H1487.1zM1488.8 531.0H1546v1.00H1488.8zM1492.0 532.0H1546v1.00H1492.0zM1495.3 533.0H1546v1.00H1495.3zM1498.7 534.0H1546v1.00H1498.7zM1507.6 535.0H1546v1.00H1507.6zM1505.3 536.0H1546v1.00H1505.3zM1508.7 537.0H1546v1.00H1508.7zM1511.9 538.0H1546v1.00H1511.9zM1515.1 539.0H1546v1.00H1515.1zM1518.3 540.0H1546v1.00H1518.3zM1521.5 541.0H1546v1.00H1521.5zM1524.7 542.0H1546v1.00H1524.7zM1522.1 543.0H1546v1.00H1522.1zM1518.9 544.0H1546v1.00H1518.9zM1515.7 545.0H1546v1.00H1515.7zM1515.3 546.0H1546v1.00H1515.3zM1509.3 547.0H1546v1.00H1509.3zM1511.2 548.0H1546v1.00H1511.2zM1502.7 549.0H1546v1.00H1502.7zM1499.3 550.0H1546v1.00H1499.3zM1501.6 551.0H1546v1.00H1501.6zM1492.7 552.0H1546v1.00H1492.7zM1489.3 553.0H1546v1.00H1489.3zM1488.3 554.0H1546v1.00H1488.3zM1491.0 555.0H1546v1.00H1491.0zM1486.6 556.0H1546v1.00H1486.6zM1485.8 557.0H1546v1.00H1485.8zM1485.0 558.0H1546v1.00H1485.0zM1487.0 559.0H1546v1.00H1487.0zM1489.0 560.0H1546v1.00H1489.0zM1491.0 561.0H1546v1.00H1491.0zM1493.0 562.0H1546v1.00H1493.0zM1495.0 563.0H1546v1.00H1495.0zM1497.3 564.0H1546v1.00H1497.3zM1499.7 565.0H1546v1.00H1499.7zM1502.0 566.0H1546v1.00H1502.0zM1504.3 567.0H1546v1.00H1504.3zM1499.1 568.0H1546v1.00H1499.1zM1512.5 569.0H1546v1.00H1512.5zM1516.8 570.0H1546v1.00H1516.8zM1516.7 571.0H1546v1.00H1516.7zM1515.0 572.0H1546v1.00H1515.0zM1517.0 573.0H1546v1.00H1517.0zM1519.0 574.0H1546v1.00H1519.0zM1521.0 575.0H1546v1.00H1521.0zM1521.8 576.0H1546v1.00H1521.8zM1522.5 577.0H1546v1.00H1522.5zM1523.3 578.0H1546v1.00H1523.3zM1524.0 579.0H1546v1.00H1524.0zM1524.8 580.0H1546v1.00H1524.8zM1525.6 581.0H1546v1.00H1525.6zM1526.3 582.0H1546v1.00H1526.3zM1527.1 583.0H1546v1.00H1527.1zM1528.4 584.0H1546v1.00H1528.4zM1529.6 585.0H1546v1.00H1529.6zM1530.9 586.0H1546v1.00H1530.9zM1532.1 587.0H1546v1.00H1532.1zM1533.4 588.0H1546v1.00H1533.4zM1534.6 589.0H1546v1.00H1534.6zM1535.9 590.0H1546v1.00H1535.9zM1537.0 591.0H1546v1.00H1537.0zM1537.0 592.0H1546v1.00H1537.0zM1537.0 593.0H1546v1.00H1537.0zM1537.0 594.0H1546v1.00H1537.0zM1537.0 595.0H1546v1.00H1537.0zM1536.8 596.0H1546v1.00H1536.8zM1536.4 597.0H1546v1.00H1536.4zM1536.0 598.0H1546v1.00H1536.0zM1535.5 599.0H1546v1.00H1535.5zM1535.1 600.0H1546v1.00H1535.1zM1534.7 601.0H1546v1.00H1534.7zM1535.0 602.0H1546v1.00H1535.0zM1536.0 603.0H1546v1.00H1536.0zM1537.0 604.0H1546v1.00H1537.0zM1538.1 605.0H1546v1.00H1538.1zM1539.1 606.0H1546v1.00H1539.1zM1540.1 607.0H1546v1.00H1540.1zM1540.5 608.0H1546v1.00H1540.5zM1540.3 609.0H1546v1.00H1540.3zM1540.1 610.0H1546v1.00H1540.1zM1539.9 611.0H1546v1.00H1539.9zM1539.7 612.0H1546v1.00H1539.7zM1539.5 613.0H1546v1.00H1539.5zM1538.9 614.0H1546v1.00H1538.9zM1538.0 615.0H1546v1.00H1538.0zM1537.1 616.0H1546v1.00H1537.1zM1536.1 617.0H1546v1.00H1536.1zM1535.2 618.0H1546v1.00H1535.2zM1534.2 619.0H1546v1.00H1534.2zM1533.3 620.0H1546v1.00H1533.3zM1533.1 621.0H1546v1.00H1533.1zM1532.9 622.0H1546v1.00H1532.9zM1532.7 623.0H1546v1.00H1532.7zM1532.4 624.0H1546v1.00H1532.4zM1532.2 625.0H1546v1.00H1532.2zM1532.0 626.0H1546v1.00H1532.0zM1532.6 627.0H1546v1.00H1532.6zM1533.2 628.0H1546v1.00H1533.2zM1533.9 629.0H1546v1.00H1533.9zM1534.5 630.0H1546v1.00H1534.5zM1535.1 631.0H1546v1.00H1535.1zM1535.7 632.0H1546v1.00H1535.7zM1535.0 633.0H1546v1.00H1535.0zM1534.1 634.0H1546v1.00H1534.1zM1533.2 635.0H1546v1.00H1533.2zM1532.3 636.0H1546v1.00H1532.3zM1531.4 637.0H1546v1.00H1531.4zM1530.5 638.0H1546v1.00H1530.5zM1531.0 639.0H1546v1.00H1531.0zM1531.9 640.0H1546v1.00H1531.9zM1532.8 641.0H1546v1.00H1532.8zM1533.7 642.0H1546v1.00H1533.7zM1534.6 643.0H1546v1.00H1534.6zM1535.5 644.0H1546v1.00H1535.5zM1536.2 645.0H1546v1.00H1536.2zM1536.8 646.0H1546v1.00H1536.8zM1537.4 647.0H1546v1.00H1537.4zM1537.9 648.0H1546v1.00H1537.9zM1538.5 649.0H1546v1.00H1538.5zM1539.1 650.0H1546v1.00H1539.1zM1538.8 651.0H1546v1.00H1538.8zM1537.7 652.0H1546v1.00H1537.7zM1536.6 653.0H1546v1.00H1536.6zM1535.5 654.0H1546v1.00H1535.5zM1534.3 655.0H1546v1.00H1534.3zM1533.6 656.0H1546v1.00H1533.6zM1532.9 657.0H1546v1.00H1532.9zM1532.3 658.0H1546v1.00H1532.3zM1531.7 659.0H1546v1.00H1531.7zM1531.1 660.0H1546v1.00H1531.1zM1532.8 661.0H1546v1.00H1532.8zM1534.7 662.0H1546v1.00H1534.7zM1536.7 663.0H1546v1.00H1536.7zM1538.6 664.0H1546v1.00H1538.6zM1540.6 665.0H1546v1.00H1540.6zM1540.2 666.0H1546v1.00H1540.2zM1539.9 667.0H1546v1.00H1539.9zM1539.5 668.0H1546v1.00H1539.5zM1539.2 669.0H1546v1.00H1539.2zM1538.8 670.0H1546v1.00H1538.8zM1538.5 671.0H1546v1.00H1538.5zM1538.1 672.0H1546v1.00H1538.1zM1539.1 673.0H1546v1.00H1539.1zM1540.7 674.0H1546v1.00H1540.7zM1541.9 675.0H1546v1.00H1541.9zM1541.9 676.0H1546v1.00H1541.9zM1541.9 677.0H1546v1.00H1541.9zM1541.9 678.0H1546v1.00H1541.9zM1541.9 679.0H1546v1.00H1541.9zM1541.9 680.0H1546v1.00H1541.9zM1541.9 681.0H1546v1.00H1541.9zM1541.9 682.0H1546v1.00H1541.9zM1541.9 683.0H1546v1.00H1541.9zM1541.9 684.0H1546v1.00H1541.9zM1541.9 685.0H1546v1.00H1541.9zM1541.9 686.0H1546v1.00H1541.9zM1542.0 687.0H1546v1.00H1542.0zM1542.6 688.0H1546v1.00H1542.6zM1543.3 689.0H1546v1.00H1543.3z" fill="#d6d7db" shape-rendering="crispEdges"/>
<line x1="5" x2="1546" y1="140" y2="140" stroke="#474a54" stroke-width="1.8"/>
<g font-family="DejaVu Sans, sans-serif" font-size="6.3" fill="#2b8770" text-anchor="end"><text x="1166" y="31.7">BGap</text><text x="1166" y="37.2">127.20</text><text x="1166" y="40.7">100.00</text><text x="1166" y="46.2">161.80</text><text x="1166" y="62.2">LVNode</text><text x="1166" y="77.6">100.00</text><text x="1166" y="81.0">100.00</text><text x="1166" y="83.7">127.20</text><text x="1166" y="90.8">161.80</text><text x="1166" y="99.8">HVNode</text><text x="1166" y="103.2">128.60</text><text x="1166" y="105.7">LVNode</text><text x="1166" y="107.8">100.00</text><text x="1166" y="113.2">161.80</text><text x="1166" y="117.9">123.60</text><text x="1166" y="120.2">100.00</text><text x="1166" y="124.9">100.00</text><text x="1166" y="134.2">127.20</text><text x="1166" y="142.7">161.80</text><text x="1166" y="155.5">127.20</text><text x="1166" y="159.7">61.80</text><text x="1166" y="165.5">78.60</text><text x="1166" y="172.2">161.80</text><text x="1166" y="176.2">VPOC</text><text x="1166" y="182.9">HVNode</text><text x="1166" y="188.7">38.20</text><text x="1166" y="189.7">50.00</text><text x="1166" y="190.5">61.80</text><text x="1166" y="196.2">100.00</text><text x="1166" y="212.8">HVNode</text><text x="1166" y="216.7">HVNode</text><text x="1166" y="217.8">50.00</text><text x="1166" y="223.6">38.20 x1</text><text x="1166" y="230.2">50.00 x2</text><text x="1166" y="236.6">161.8 x1</text><text x="1166" y="256.0">HVNode</text><text x="1166" y="262.2">100.00</text><text x="1166" y="278.2">HVNode</text><text x="1166" y="284.6">38.20</text><text x="1166" y="298.0">HVNode</text><text x="1166" y="304.2">161.80</text><text x="1166" y="321.2">LVNode</text><text x="1166" y="327.2">38.20 x1</text><text x="1166" y="332.9">61.80 x1</text><text x="1166" y="333.7">50.00 x2</text><text x="1166" y="340.2">127.20 x1</text><text x="1166" y="342.2">LVNode</text><text x="1166" y="348.2">50.00 x1</text><text x="1166" y="362.8">HVNode</text><text x="1166" y="368.6">100.00</text><text x="1166" y="373.6">HVNode</text><text x="1166" y="379.4">61.80</text><text x="1166" y="453.2">VPOC</text><text x="1166" y="466.5">HVNode</text><text x="1166" y="472.7">38.20</text><text x="1166" y="481.4">HVNode</text><text x="1166" y="494.6">HVNode</text><text x="1166" y="501.0">38.20 x2 | 50.00 x1 | 61.80 x1</text><text x="1166" y="507.2">100.00 x1 | 127.20 x1</text><text x="1166" y="530.5">LVNode</text><text x="1166" y="536.8">100.00</text><text x="1166" y="547.2">HVNode</text><text x="1166" y="553.4">61.80</text><text x="1166" y="559.8">78.60</text><text x="1166" y="583.2">50.00</text><text x="1166" y="586.7">HVNode</text><text x="1166" y="593.2">100.00 x1</text><text x="1166" y="599.6">161.80 x4</text><text x="1166" y="638.2">LVNode</text><text x="1166" y="644.0">38.20</text><text x="1166" y="646.8">VPOC</text><text x="1166" y="653.5">HVNode</text><text x="1166" y="659.8">161.80</text><text x="1166" y="691.5">HVNode</text><text x="1166" y="694.9">61.80</text><text x="1166" y="697.2">50.00</text><text x="1166" y="704.4">161.80</text><text x="1166" y="772.2">VPOC</text><text x="1166" y="778.5">HVNode</text><text x="1166" y="784.5">61.80</text><text x="1166" y="820.2">50.00</text><text x="1166" y="826.2">61.80</text><text x="1166" y="832.6">78.60</text><text x="1166" y="839.0">100.00</text><text x="1166" y="845.6">127.20</text><text x="1166" y="851.6">161.80</text></g>
<g opacity="0.80"><polygon points="514,109.5 660,114.4 514,121.5" fill="#30343f"/><rect x="55.2" y="90.2" width="459.8" height="49.5" rx="4" fill="#30343f"/></g>
<rect x="55.6" y="90.60000000000001" width="459.0" height="48.7" rx="3.6" fill="none" stroke="#2a2d38" stroke-opacity="0.45" stroke-width="0.8"/>
<text x="62" y="106" textLength="427.0" lengthAdjust="spacingAndGlyphs" font-family="DejaVu Sans, sans-serif" font-size="12.5" fill="#ffffff">Minimal excess at prior highs and numerous gaps below created by</text>
<text x="62" y="118.4" textLength="389.0" lengthAdjust="spacingAndGlyphs" font-family="DejaVu Sans, sans-serif" font-size="12.5" fill="#ffffff">short-term, momentum-driven participants that got ahead of</text>
<text x="62" y="130.8" textLength="384.0" lengthAdjust="spacingAndGlyphs" font-family="DejaVu Sans, sans-serif" font-size="12.5" fill="#ffffff">themselves and lacked the conviction to move prices higher.</text>
<g opacity="0.80"><polygon points="1052,62 1056.6,111.6 1061.8,62" fill="#30343f"/><rect x="783" y="37.7" width="546.7" height="25.0" rx="4" fill="#30343f"/></g>
<rect x="783.4" y="38.1" width="545.9" height="24.2" rx="3.6" fill="none" stroke="#2a2d38" stroke-opacity="0.45" stroke-width="0.8"/>
<text x="790" y="54.2" textLength="527.5" lengthAdjust="spacingAndGlyphs" font-family="DejaVu Sans, sans-serif" font-size="12.5" fill="#ffffff">Balance Scenarios: (1) Break &amp; Go; (2) Break, Fail, Rotate; (3) Remain Rotational.</text>
<g opacity="0.80"><polygon points="1072.4,385 1076,152.6 1081,385" fill="#30343f"/><rect x="881.1" y="384.3" width="390.7" height="62.5" rx="4" fill="#30343f"/></g>
<rect x="881.5" y="384.7" width="389.9" height="61.7" rx="3.6" fill="none" stroke="#2a2d38" stroke-opacity="0.45" stroke-width="0.8"/>
<text x="888.3" y="400.5" textLength="369.0" lengthAdjust="spacingAndGlyphs" font-family="DejaVu Sans, sans-serif" font-size="12.5" fill="#ffffff">Numerous responsive sessions. Market digesting available</text>
<text x="888.3" y="412.9" textLength="369.0" lengthAdjust="spacingAndGlyphs" font-family="DejaVu Sans, sans-serif" font-size="12.5" fill="#ffffff">information, building launchpad (value) for next move out</text>
<text x="888.3" y="425.4" textLength="354.7" lengthAdjust="spacingAndGlyphs" font-family="DejaVu Sans, sans-serif" font-size="12.5" fill="#ffffff">of consolidation. Note the rotation; tech weakens, while</text>
<text x="888.3" y="437.9" textLength="364.7" lengthAdjust="spacingAndGlyphs" font-family="DejaVu Sans, sans-serif" font-size="12.5" fill="#ffffff">financials, energy, industrials, small caps all find support.</text>
<g opacity="0.80"><polygon points="718.8,557 723,389.5 728.2,557" fill="#30343f"/><rect x="436.9" y="556" width="572.6" height="24.5" rx="4" fill="#30343f"/></g>
<rect x="437.29999999999995" y="556.4" width="571.8" height="23.7" rx="3.6" fill="none" stroke="#2a2d38" stroke-opacity="0.45" stroke-width="0.8"/>
<text x="443.2" y="572.1" textLength="558.8" lengthAdjust="spacingAndGlyphs" font-family="DejaVu Sans, sans-serif" font-size="12.5" fill="#ffffff">5 sigma de-risking; similar single-day moves have predated periods of outperformance.</text>
<path d="M5 781m-1 0a1 1 0 1 0 2 0a1 1 0 1 0 -2 0M7.4 781m-1 0a1 1 0 1 0 2 0a1 1 0 1 0 -2 0" fill="#3aa23a"/>
<rect x="5" y="660.5" width="4" height="2.5" fill="#444753"/>
<rect x="1047.8" y="113.1" width="47.8" height="38" fill="none" stroke="#000" stroke-width="3"/>
<rect x="1547" y="28" width="48.5" height="828" fill="#ffffff"/>
<rect x="4" y="856.5" width="1592" height="23.5" fill="#ffffff"/>
<line x1="4" x2="1596" y1="27.5" y2="27.5" stroke="#9fa2aa" stroke-width="1"/>
<line x1="4.5" x2="4.5" y1="27.5" y2="880" stroke="#9fa2aa" stroke-width="1"/>
<line x1="1595.5" x2="1595.5" y1="27.5" y2="880" stroke="#b8bac1" stroke-width="1"/>
<line x1="4" x2="1596" y1="856.7" y2="856.7" stroke="#8e919a" stroke-width="1"/>
<line x1="4" x2="1596" y1="880.2" y2="880.2" stroke="#d0d1d5" stroke-width="1.5"/>
<line x1="1546.5" x2="1546.5" y1="27.5" y2="880" stroke="#8e919a" stroke-width="1"/>
<g font-family="Liberation Sans, sans-serif" font-size="10.2" fill="#131722" textLength="34.6"><text textLength="34.6" lengthAdjust="spacingAndGlyphs" x="1553.6" y="38.5">3320.00</text><text textLength="34.6" lengthAdjust="spacingAndGlyphs" x="1553.6" y="74.3">3280.00</text><text textLength="34.6" lengthAdjust="spacingAndGlyphs" x="1553.6" y="110.0">3240.00</text><text textLength="34.6" lengthAdjust="spacingAndGlyphs" x="1553.6" y="217.3">3120.00</text><text textLength="34.6" lengthAdjust="spacingAndGlyphs" x="1553.6" y="253.1">3080.00</text><text textLength="34.6" lengthAdjust="spacingAndGlyphs" x="1553.6" y="288.8">3040.00</text><text textLength="34.6" lengthAdjust="spacingAndGlyphs" x="1553.6" y="324.6">3000.00</text><text textLength="34.6" lengthAdjust="spacingAndGlyphs" x="1553.6" y="360.3">2960.00</text><text textLength="34.6" lengthAdjust="spacingAndGlyphs" x="1553.6" y="396.1">2920.00</text><text textLength="34.6" lengthAdjust="spacingAndGlyphs" x="1553.6" y="431.9">2880.00</text><text textLength="34.6" lengthAdjust="spacingAndGlyphs" x="1553.6" y="467.6">2840.00</text><text textLength="34.6" lengthAdjust="spacingAndGlyphs" x="1553.6" y="503.4">2800.00</text><text textLength="34.6" lengthAdjust="spacingAndGlyphs" x="1553.6" y="539.1">2760.00</text><text textLength="34.6" lengthAdjust="spacingAndGlyphs" x="1553.6" y="574.9">2720.00</text><text textLength="34.6" lengthAdjust="spacingAndGlyphs" x="1553.6" y="610.7">2680.00</text><text textLength="34.6" lengthAdjust="spacingAndGlyphs" x="1553.6" y="646.4">2640.00</text><text textLength="34.6" lengthAdjust="spacingAndGlyphs" x="1553.6" y="682.2">2600.00</text><text textLength="34.6" lengthAdjust="spacingAndGlyphs" x="1553.6" y="717.9">2560.00</text><text textLength="34.6" lengthAdjust="spacingAndGlyphs" x="1553.6" y="753.7">2520.00</text><text textLength="34.6" lengthAdjust="spacingAndGlyphs" x="1553.6" y="789.5">2480.00</text><text textLength="34.6" lengthAdjust="spacingAndGlyphs" x="1553.6" y="825.2">2440.00</text></g>
<path d="M1547 35.0h2.5M1547 70.8h2.5M1547 106.5h2.5M1547 213.8h2.5M1547 249.6h2.5M1547 285.3h2.5M1547 321.1h2.5M1547 356.8h2.5M1547 392.6h2.5M1547 428.4h2.5M1547 464.1h2.5M1547 499.9h2.5M1547 535.6h2.5M1547 571.4h2.5M1547 607.2h2.5M1547 642.9h2.5M1547 678.7h2.5M1547 714.4h2.5M1547 750.2h2.5M1547 786.0h2.5M1547 821.7h2.5" stroke="#8e919a" stroke-width="1"/>
<rect x="1547" y="107.5" width="48.5" height="14.9" fill="#9ea0a9"/>
<line x1="1547" x2="1550" y1="115.0" y2="115.0" stroke="#131722" stroke-width="1"/>
<text x="1553.6" y="118.5" textLength="34.6" lengthAdjust="spacingAndGlyphs" font-family="Liberation Sans, sans-serif" font-size="10.2" fill="#131722">3230.00</text>
<rect x="1547" y="122.4" width="48.5" height="15.3" fill="#4caf50"/>
<line x1="1547" x2="1550" y1="130.1" y2="130.1" stroke="#ffffff" stroke-width="1"/>
<text x="1553.6" y="133.6" textLength="34.6" lengthAdjust="spacingAndGlyphs" font-family="Liberation Sans, sans-serif" font-size="10.2" fill="#ffffff">3214.00</text>
<rect x="1547" y="137.7" width="48.5" height="15.6" fill="#3b78df"/>
<line x1="1547" x2="1550" y1="145.5" y2="145.5" stroke="#ffffff" stroke-width="1"/>
<text x="1553.6" y="149.0" textLength="34.6" lengthAdjust="spacingAndGlyphs" font-family="Liberation Sans, sans-serif" font-size="10.2" fill="#ffffff">3213.75</text>
<rect x="1547" y="153.3" width="48.5" height="15.0" fill="#000000"/>
<line x1="1547" x2="1550" y1="160.8" y2="160.8" stroke="#ffffff" stroke-width="1"/>
<text x="1553.6" y="164.3" textLength="34.6" lengthAdjust="spacingAndGlyphs" font-family="Liberation Sans, sans-serif" font-size="10.2" fill="#ffffff">3202.00</text>
<rect x="1547" y="168.3" width="48.5" height="15.2" fill="#4caf50"/>
<line x1="1547" x2="1550" y1="175.9" y2="175.9" stroke="#ffffff" stroke-width="1"/>
<text x="1553.6" y="179.4" textLength="34.6" lengthAdjust="spacingAndGlyphs" font-family="Liberation Sans, sans-serif" font-size="10.2" fill="#ffffff">3198.50</text>
<rect x="1547" y="430.0" width="48.5" height="14.7" fill="#9ea0a9"/>
<line x1="1547" x2="1550" y1="437.4" y2="437.4" stroke="#131722" stroke-width="1"/>
<text x="1553.6" y="440.9" textLength="34.6" lengthAdjust="spacingAndGlyphs" font-family="Liberation Sans, sans-serif" font-size="10.2" fill="#131722">2870.00</text>
<g font-family="Liberation Sans, sans-serif" font-size="10.4" fill="#131722" text-anchor="middle"><text transform="translate(58.5 872) scale(0.9 1)">13</text><text transform="translate(133 872) scale(0.9 1)">20</text><text transform="translate(202.5 872) scale(0.9 1)">26</text><text transform="translate(267.5 872) scale(0.9 1)" font-weight="bold">May</text><text transform="translate(357 872) scale(0.9 1)">11</text><text transform="translate(432 872) scale(0.9 1)">18</text><text transform="translate(506.3 872) scale(0.9 1)">25</text><text transform="translate(579 872) scale(0.9 1)" font-weight="bold">Jun</text><text transform="translate(653 872) scale(0.9 1)">8</text><text transform="translate(728 872) scale(0.9 1)">15</text><text transform="translate(802.5 872) scale(0.9 1)">22</text><text transform="translate(907.2 872) scale(0.9 1)" font-weight="bold">Jul</text><text transform="translate(1024.4 872) scale(0.9 1)">13</text><text transform="translate(1099.4 872) scale(0.9 1)">20</text><text transform="translate(1173.5 872) scale(0.9 1)">27</text><text transform="translate(1243 872) scale(0.9 1)" font-weight="bold">Aug</text><text transform="translate(1322.6 872) scale(0.9 1)">10</text><text transform="translate(1397.6 872) scale(0.9 1)">17</text><text transform="translate(1472 872) scale(0.9 1)">24</text></g>
<path d="M58.5 857v3M133.0 857v3M202.5 857v3M267.5 857v3M357.0 857v3M432.0 857v3M506.3 857v3M579.0 857v3M653.0 857v3M728.0 857v3M802.5 857v3M907.2 857v3M1024.4 857v3M1099.4 857v3M1173.5 857v3M1243.0 857v3M1322.6 857v3M1397.6 857v3M1472.0 857v3" stroke="#a0a3ab" stroke-width="1"/>
<text x="4" y="10.6" textLength="233.5" lengthAdjust="spacingAndGlyphs" font-family="Liberation Sans, sans-serif" font-size="8.6" fill="#3a3d44"><tspan font-weight="bold" fill="#1e2027">Physik</tspan> published on TradingView.com, July 18, 2020 15:17:54 EDT</text>
<text x="4" y="21.1" textLength="335" lengthAdjust="spacingAndGlyphs" font-family="Liberation Sans, sans-serif" font-size="8.6" fill="#3a3d44"><tspan font-weight="bold" fill="#1e2027">CME_MINI:ES1!, 240</tspan> 3214.00 <tspan fill="#26a69a" font-size="10.5">&#9650;</tspan> +19.50 (+0.61%) <tspan fill="#1e2027">O:</tspan><tspan fill="#26a69a">3211.75</tspan> <tspan fill="#1e2027">H:</tspan><tspan fill="#26a69a">3225.25</tspan> <tspan fill="#1e2027">L:</tspan><tspan fill="#26a69a">3211.50</tspan> <tspan fill="#1e2027">C:</tspan><tspan fill="#26a69a">3213.75</tspan></text>
<path d="M4.5 894.5c-0.8-1.6 0-3.6 1.9-4 0.4-2.2 2.3-3.6 4.4-3.2 1.2 0.2 2.1 0.9 2.6 1.9 0.6-0.6 1.6-0.9 2.5-0.6 1.3 0.4 2 1.6 1.9 2.9 1.6 0.3 2.5 1.8 2 3.2-0.3 0.8-1 1.3-1.8 1.3H6.2c-0.7 0-1.3-0.6-1.7-1.5z" fill="#2196f3"/>
<path d="M5.2 894.3l4.5-4.3 3.5 4 3.3-3.6" fill="none" stroke="#ffffff" stroke-width="0.9"/>
<text x="21.5" y="894.2" textLength="44.5" lengthAdjust="spacingAndGlyphs" font-family="Liberation Sans, sans-serif" font-size="7.8" fill="#4a4d55">TradingView</text>
</svg></body></html>
